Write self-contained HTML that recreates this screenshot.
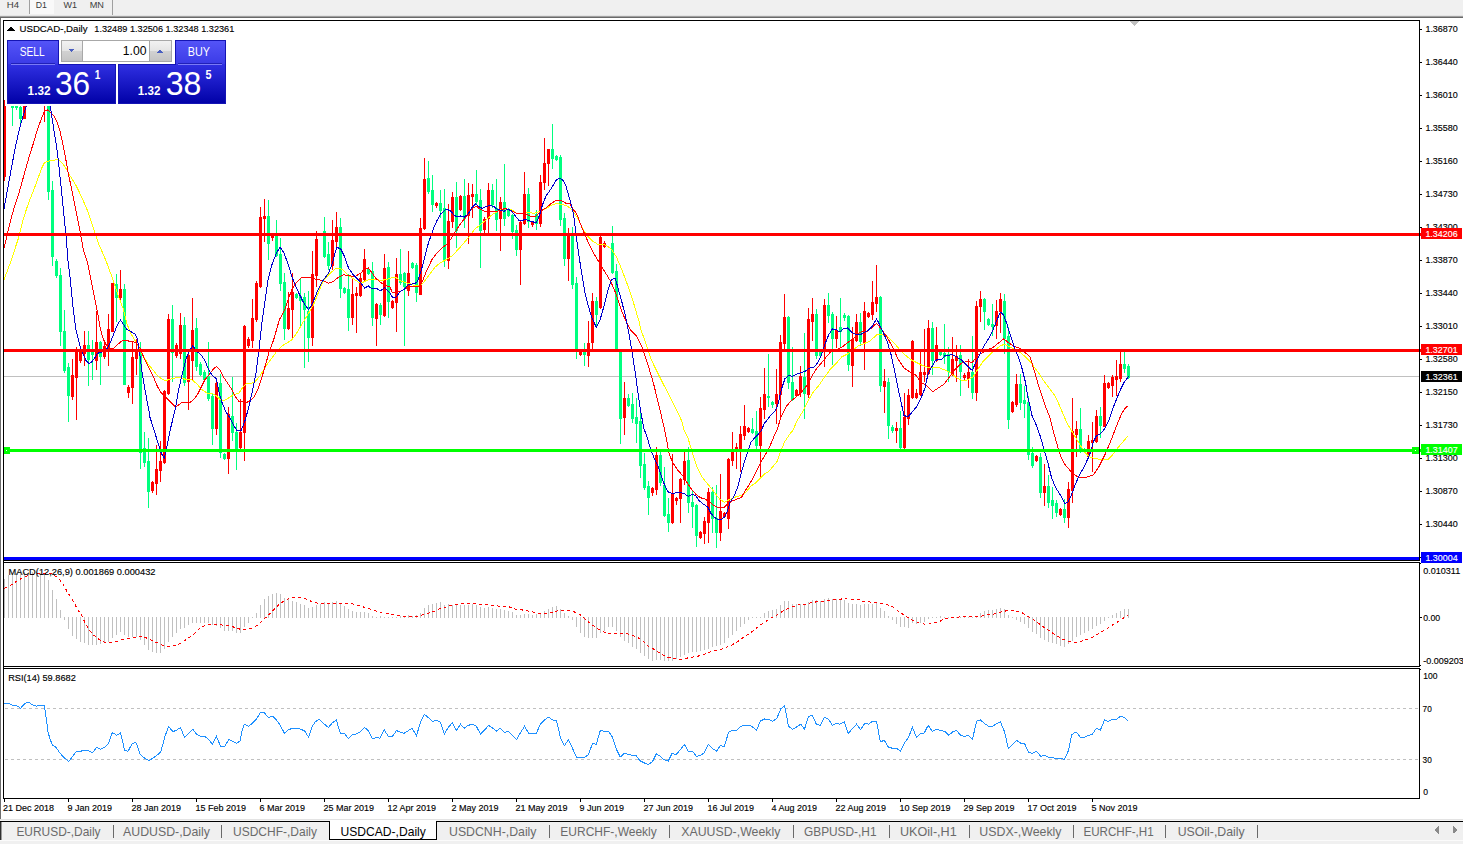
<!DOCTYPE html>
<html><head><meta charset="utf-8"><title>USDCAD-,Daily</title>
<style>
html,body{margin:0;padding:0;background:#fff;overflow:hidden}
svg{display:block;font-family:"Liberation Sans",sans-serif}
rect,polyline,line,polygon{shape-rendering:crispEdges}
text{white-space:pre}
</style></head><body>
<svg width="1463" height="844" viewBox="0 0 1463 844">
<rect x="0" y="0" width="1463" height="844" fill="#fff"/>
<rect x="0" y="0" width="1463" height="15" fill="#f0f0f0"/>
<rect x="0" y="15" width="1463" height="1" fill="#e4e4e4"/>
<rect x="0" y="16" width="1463" height="1" fill="#a0a0a0"/>
<rect x="0" y="17" width="1463" height="1" fill="#696969"/>
<rect x="30" y="0" width="24" height="14" fill="#f9f9f9"/>
<rect x="29" y="0" width="1" height="14" fill="#a0a0a0"/>
<rect x="112" y="0" width="1" height="15" fill="#a0a0a0"/>
<rect x="0" y="18" width="1" height="801" fill="#6d6d6d"/>
<rect x="0" y="819" width="1463" height="1" fill="#e3e3e3"/>
<rect x="0" y="820" width="1463" height="1" fill="#f4f4f4"/>
<rect x="0" y="821" width="1463" height="1" fill="#000"/>
<rect x="0" y="822" width="1463" height="22" fill="#f0f0f0"/>
<rect x="0" y="840" width="1463" height="1" fill="#fbfbfb"/>
<rect x="0" y="822" width="1" height="18" fill="#303030"/>
<rect x="1" y="822" width="1" height="18" fill="#9a9a9a"/>
<rect x="330" y="820" width="106" height="19" fill="#fff"/>
<rect x="329" y="821" width="1" height="19" fill="#000"/>
<rect x="436" y="821" width="1" height="19" fill="#000"/>
<rect x="329" y="839" width="108" height="1" fill="#000"/>
<clipPath id="cm"><rect x="4" y="21" width="1415" height="539"/></clipPath>
<rect x="4" y="376" width="1415" height="1" fill="#c0c0c0"/>
<g clip-path="url(#cm)">
<rect x="4" y="100" width="1" height="81" fill="#ff0000"/>
<rect x="3" y="100" width="3" height="77" fill="#ff0000"/>
<rect x="8" y="96" width="1" height="10" fill="#00ff7f"/>
<rect x="7" y="98" width="3" height="7" fill="#00ff7f"/>
<rect x="12" y="100" width="1" height="26" fill="#00ff7f"/>
<rect x="11" y="102" width="3" height="6" fill="#00ff7f"/>
<rect x="16" y="100" width="1" height="10" fill="#00ff7f"/>
<rect x="15" y="102" width="3" height="6" fill="#00ff7f"/>
<rect x="20" y="104" width="1" height="21" fill="#00ff7f"/>
<rect x="19" y="107" width="3" height="12" fill="#00ff7f"/>
<rect x="24" y="100" width="1" height="19" fill="#ff0000"/>
<rect x="23" y="102" width="3" height="17" fill="#ff0000"/>
<rect x="28" y="92" width="1" height="13" fill="#ff0000"/>
<rect x="27" y="95" width="3" height="9" fill="#ff0000"/>
<rect x="32" y="90" width="1" height="13" fill="#ff0000"/>
<rect x="31" y="92" width="3" height="9" fill="#ff0000"/>
<rect x="36" y="90" width="1" height="13" fill="#00ff7f"/>
<rect x="35" y="93" width="3" height="7" fill="#00ff7f"/>
<rect x="40" y="88" width="1" height="16" fill="#ff0000"/>
<rect x="39" y="92" width="3" height="9" fill="#ff0000"/>
<rect x="44" y="92" width="1" height="30" fill="#ff0000"/>
<rect x="43" y="96" width="3" height="9" fill="#ff0000"/>
<rect x="48" y="98" width="1" height="102" fill="#00ff7f"/>
<rect x="47" y="100" width="3" height="92" fill="#00ff7f"/>
<rect x="52" y="181" width="1" height="85" fill="#00ff7f"/>
<rect x="51" y="190" width="3" height="67" fill="#00ff7f"/>
<rect x="56" y="259" width="1" height="19" fill="#00ff7f"/>
<rect x="55" y="261" width="3" height="15" fill="#00ff7f"/>
<rect x="60" y="268" width="1" height="78" fill="#00ff7f"/>
<rect x="59" y="275" width="3" height="57" fill="#00ff7f"/>
<rect x="64" y="310" width="1" height="63" fill="#00ff7f"/>
<rect x="63" y="331" width="3" height="40" fill="#00ff7f"/>
<rect x="68" y="363" width="1" height="59" fill="#00ff7f"/>
<rect x="67" y="367" width="3" height="29" fill="#00ff7f"/>
<rect x="72" y="359" width="1" height="41" fill="#ff0000"/>
<rect x="71" y="375" width="3" height="22" fill="#ff0000"/>
<rect x="76" y="347" width="1" height="73" fill="#ff0000"/>
<rect x="75" y="350" width="3" height="28" fill="#ff0000"/>
<rect x="80" y="348" width="1" height="15" fill="#ff0000"/>
<rect x="79" y="352" width="3" height="9" fill="#ff0000"/>
<rect x="84" y="331" width="1" height="35" fill="#ff0000"/>
<rect x="83" y="345" width="3" height="9" fill="#ff0000"/>
<rect x="88" y="331" width="1" height="55" fill="#00ff7f"/>
<rect x="87" y="345" width="3" height="15" fill="#00ff7f"/>
<rect x="92" y="340" width="1" height="40" fill="#00ff7f"/>
<rect x="91" y="350" width="3" height="5" fill="#00ff7f"/>
<rect x="96" y="311" width="1" height="59" fill="#ff0000"/>
<rect x="95" y="342" width="3" height="19" fill="#ff0000"/>
<rect x="100" y="341" width="1" height="44" fill="#00ff7f"/>
<rect x="99" y="342" width="3" height="15" fill="#00ff7f"/>
<rect x="104" y="343" width="1" height="16" fill="#ff0000"/>
<rect x="103" y="346" width="3" height="11" fill="#ff0000"/>
<rect x="108" y="314" width="1" height="52" fill="#ff0000"/>
<rect x="107" y="329" width="3" height="21" fill="#ff0000"/>
<rect x="112" y="283" width="1" height="49" fill="#ff0000"/>
<rect x="111" y="283" width="3" height="49" fill="#ff0000"/>
<rect x="116" y="274" width="1" height="48" fill="#00ff7f"/>
<rect x="115" y="284" width="3" height="14" fill="#00ff7f"/>
<rect x="120" y="270" width="1" height="31" fill="#ff0000"/>
<rect x="119" y="289" width="3" height="9" fill="#ff0000"/>
<rect x="124" y="284" width="1" height="101" fill="#00ff7f"/>
<rect x="123" y="289" width="3" height="96" fill="#00ff7f"/>
<rect x="128" y="385" width="1" height="13" fill="#ff0000"/>
<rect x="127" y="387" width="3" height="6" fill="#ff0000"/>
<rect x="132" y="341" width="1" height="63" fill="#ff0000"/>
<rect x="131" y="357" width="3" height="31" fill="#ff0000"/>
<rect x="136" y="339" width="1" height="36" fill="#ff0000"/>
<rect x="135" y="352" width="3" height="7" fill="#ff0000"/>
<rect x="140" y="342" width="1" height="127" fill="#00ff7f"/>
<rect x="139" y="349" width="3" height="104" fill="#00ff7f"/>
<rect x="144" y="432" width="1" height="35" fill="#00ff7f"/>
<rect x="143" y="448" width="3" height="15" fill="#00ff7f"/>
<rect x="148" y="438" width="1" height="70" fill="#00ff7f"/>
<rect x="147" y="461" width="3" height="31" fill="#00ff7f"/>
<rect x="152" y="481" width="1" height="12" fill="#ff0000"/>
<rect x="151" y="482" width="3" height="9" fill="#ff0000"/>
<rect x="156" y="445" width="1" height="50" fill="#ff0000"/>
<rect x="155" y="469" width="3" height="15" fill="#ff0000"/>
<rect x="160" y="441" width="1" height="41" fill="#ff0000"/>
<rect x="159" y="461" width="3" height="10" fill="#ff0000"/>
<rect x="164" y="390" width="1" height="74" fill="#ff0000"/>
<rect x="163" y="391" width="3" height="72" fill="#ff0000"/>
<rect x="168" y="314" width="1" height="81" fill="#ff0000"/>
<rect x="167" y="319" width="3" height="75" fill="#ff0000"/>
<rect x="172" y="305" width="1" height="77" fill="#00ff7f"/>
<rect x="171" y="319" width="3" height="34" fill="#00ff7f"/>
<rect x="176" y="343" width="1" height="15" fill="#ff0000"/>
<rect x="175" y="345" width="3" height="11" fill="#ff0000"/>
<rect x="180" y="313" width="1" height="46" fill="#ff0000"/>
<rect x="179" y="325" width="3" height="29" fill="#ff0000"/>
<rect x="184" y="317" width="1" height="69" fill="#00ff7f"/>
<rect x="183" y="325" width="3" height="58" fill="#00ff7f"/>
<rect x="188" y="352" width="1" height="58" fill="#ff0000"/>
<rect x="187" y="355" width="3" height="27" fill="#ff0000"/>
<rect x="192" y="298" width="1" height="83" fill="#ff0000"/>
<rect x="191" y="330" width="3" height="31" fill="#ff0000"/>
<rect x="196" y="318" width="1" height="53" fill="#00ff7f"/>
<rect x="195" y="328" width="3" height="39" fill="#00ff7f"/>
<rect x="200" y="362" width="1" height="14" fill="#00ff7f"/>
<rect x="199" y="364" width="3" height="11" fill="#00ff7f"/>
<rect x="204" y="370" width="1" height="11" fill="#00ff7f"/>
<rect x="203" y="372" width="3" height="8" fill="#00ff7f"/>
<rect x="208" y="342" width="1" height="59" fill="#00ff7f"/>
<rect x="207" y="376" width="3" height="23" fill="#00ff7f"/>
<rect x="212" y="394" width="1" height="51" fill="#00ff7f"/>
<rect x="211" y="396" width="3" height="33" fill="#00ff7f"/>
<rect x="216" y="382" width="1" height="53" fill="#ff0000"/>
<rect x="215" y="383" width="3" height="46" fill="#ff0000"/>
<rect x="220" y="374" width="1" height="84" fill="#00ff7f"/>
<rect x="219" y="383" width="3" height="70" fill="#00ff7f"/>
<rect x="224" y="453" width="1" height="7" fill="#00ff7f"/>
<rect x="223" y="454" width="3" height="5" fill="#00ff7f"/>
<rect x="228" y="407" width="1" height="67" fill="#ff0000"/>
<rect x="227" y="414" width="3" height="45" fill="#ff0000"/>
<rect x="232" y="377" width="1" height="64" fill="#00ff7f"/>
<rect x="231" y="416" width="3" height="17" fill="#00ff7f"/>
<rect x="236" y="423" width="1" height="47" fill="#00ff7f"/>
<rect x="235" y="432" width="3" height="17" fill="#00ff7f"/>
<rect x="240" y="399" width="1" height="50" fill="#ff0000"/>
<rect x="239" y="432" width="3" height="16" fill="#ff0000"/>
<rect x="244" y="325" width="1" height="136" fill="#ff0000"/>
<rect x="243" y="326" width="3" height="107" fill="#ff0000"/>
<rect x="248" y="337" width="1" height="11" fill="#ff0000"/>
<rect x="247" y="339" width="3" height="7" fill="#ff0000"/>
<rect x="252" y="299" width="1" height="49" fill="#ff0000"/>
<rect x="251" y="318" width="3" height="23" fill="#ff0000"/>
<rect x="256" y="281" width="1" height="41" fill="#ff0000"/>
<rect x="255" y="283" width="3" height="37" fill="#ff0000"/>
<rect x="260" y="207" width="1" height="81" fill="#ff0000"/>
<rect x="259" y="217" width="3" height="70" fill="#ff0000"/>
<rect x="264" y="199" width="1" height="43" fill="#ff0000"/>
<rect x="263" y="216" width="3" height="3" fill="#ff0000"/>
<rect x="268" y="200" width="1" height="60" fill="#00ff7f"/>
<rect x="267" y="216" width="3" height="28" fill="#00ff7f"/>
<rect x="272" y="233" width="1" height="8" fill="#ff0000"/>
<rect x="271" y="235" width="3" height="3" fill="#ff0000"/>
<rect x="276" y="220" width="1" height="37" fill="#00ff7f"/>
<rect x="275" y="235" width="3" height="21" fill="#00ff7f"/>
<rect x="280" y="238" width="1" height="53" fill="#00ff7f"/>
<rect x="279" y="254" width="3" height="30" fill="#00ff7f"/>
<rect x="284" y="273" width="1" height="67" fill="#00ff7f"/>
<rect x="283" y="282" width="3" height="47" fill="#00ff7f"/>
<rect x="288" y="292" width="1" height="38" fill="#ff0000"/>
<rect x="287" y="308" width="3" height="21" fill="#ff0000"/>
<rect x="292" y="273" width="1" height="65" fill="#ff0000"/>
<rect x="291" y="292" width="3" height="18" fill="#ff0000"/>
<rect x="296" y="293" width="1" height="6" fill="#00ff7f"/>
<rect x="295" y="294" width="3" height="4" fill="#00ff7f"/>
<rect x="300" y="278" width="1" height="50" fill="#00ff7f"/>
<rect x="299" y="296" width="3" height="5" fill="#00ff7f"/>
<rect x="304" y="293" width="1" height="75" fill="#00ff7f"/>
<rect x="303" y="297" width="3" height="13" fill="#00ff7f"/>
<rect x="308" y="291" width="1" height="71" fill="#00ff7f"/>
<rect x="307" y="311" width="3" height="27" fill="#00ff7f"/>
<rect x="312" y="251" width="1" height="95" fill="#ff0000"/>
<rect x="311" y="274" width="3" height="64" fill="#ff0000"/>
<rect x="316" y="231" width="1" height="56" fill="#ff0000"/>
<rect x="315" y="239" width="3" height="37" fill="#ff0000"/>
<rect x="324" y="217" width="1" height="41" fill="#00ff7f"/>
<rect x="323" y="231" width="3" height="26" fill="#00ff7f"/>
<rect x="328" y="242" width="1" height="28" fill="#00ff7f"/>
<rect x="327" y="254" width="3" height="12" fill="#00ff7f"/>
<rect x="332" y="220" width="1" height="50" fill="#ff0000"/>
<rect x="331" y="240" width="3" height="26" fill="#ff0000"/>
<rect x="336" y="212" width="1" height="35" fill="#ff0000"/>
<rect x="335" y="227" width="3" height="15" fill="#ff0000"/>
<rect x="340" y="218" width="1" height="80" fill="#00ff7f"/>
<rect x="339" y="227" width="3" height="62" fill="#00ff7f"/>
<rect x="344" y="287" width="1" height="7" fill="#00ff7f"/>
<rect x="343" y="288" width="3" height="5" fill="#00ff7f"/>
<rect x="348" y="274" width="1" height="57" fill="#00ff7f"/>
<rect x="347" y="289" width="3" height="29" fill="#00ff7f"/>
<rect x="352" y="279" width="1" height="46" fill="#ff0000"/>
<rect x="351" y="294" width="3" height="24" fill="#ff0000"/>
<rect x="356" y="287" width="1" height="46" fill="#ff0000"/>
<rect x="355" y="293" width="3" height="3" fill="#ff0000"/>
<rect x="360" y="273" width="1" height="24" fill="#ff0000"/>
<rect x="359" y="278" width="3" height="18" fill="#ff0000"/>
<rect x="364" y="249" width="1" height="32" fill="#ff0000"/>
<rect x="363" y="259" width="3" height="21" fill="#ff0000"/>
<rect x="368" y="268" width="1" height="7" fill="#00ff7f"/>
<rect x="367" y="269" width="3" height="5" fill="#00ff7f"/>
<rect x="372" y="262" width="1" height="64" fill="#00ff7f"/>
<rect x="371" y="271" width="3" height="47" fill="#00ff7f"/>
<rect x="376" y="303" width="1" height="43" fill="#ff0000"/>
<rect x="375" y="304" width="3" height="15" fill="#ff0000"/>
<rect x="380" y="303" width="1" height="22" fill="#00ff7f"/>
<rect x="379" y="305" width="3" height="10" fill="#00ff7f"/>
<rect x="384" y="254" width="1" height="63" fill="#ff0000"/>
<rect x="383" y="268" width="3" height="48" fill="#ff0000"/>
<rect x="388" y="262" width="1" height="56" fill="#00ff7f"/>
<rect x="387" y="267" width="3" height="35" fill="#00ff7f"/>
<rect x="392" y="300" width="1" height="9" fill="#ff0000"/>
<rect x="391" y="301" width="3" height="7" fill="#ff0000"/>
<rect x="396" y="258" width="1" height="74" fill="#ff0000"/>
<rect x="395" y="274" width="3" height="29" fill="#ff0000"/>
<rect x="400" y="249" width="1" height="36" fill="#00ff7f"/>
<rect x="399" y="274" width="3" height="9" fill="#00ff7f"/>
<rect x="404" y="272" width="1" height="74" fill="#00ff7f"/>
<rect x="403" y="273" width="3" height="14" fill="#00ff7f"/>
<rect x="408" y="251" width="1" height="45" fill="#ff0000"/>
<rect x="407" y="273" width="3" height="18" fill="#ff0000"/>
<rect x="412" y="262" width="1" height="7" fill="#00ff7f"/>
<rect x="411" y="263" width="3" height="5" fill="#00ff7f"/>
<rect x="416" y="263" width="1" height="39" fill="#00ff7f"/>
<rect x="415" y="265" width="3" height="28" fill="#00ff7f"/>
<rect x="420" y="218" width="1" height="77" fill="#ff0000"/>
<rect x="419" y="228" width="3" height="67" fill="#ff0000"/>
<rect x="424" y="158" width="1" height="72" fill="#ff0000"/>
<rect x="423" y="179" width="3" height="50" fill="#ff0000"/>
<rect x="428" y="161" width="1" height="33" fill="#00ff7f"/>
<rect x="427" y="178" width="3" height="14" fill="#00ff7f"/>
<rect x="432" y="175" width="1" height="37" fill="#00ff7f"/>
<rect x="431" y="190" width="3" height="15" fill="#00ff7f"/>
<rect x="436" y="202" width="1" height="6" fill="#ff0000"/>
<rect x="435" y="203" width="3" height="3" fill="#ff0000"/>
<rect x="440" y="190" width="1" height="28" fill="#00ff7f"/>
<rect x="439" y="203" width="3" height="8" fill="#00ff7f"/>
<rect x="444" y="189" width="1" height="78" fill="#00ff7f"/>
<rect x="443" y="208" width="3" height="53" fill="#00ff7f"/>
<rect x="448" y="204" width="1" height="65" fill="#ff0000"/>
<rect x="447" y="221" width="3" height="40" fill="#ff0000"/>
<rect x="452" y="192" width="1" height="36" fill="#ff0000"/>
<rect x="451" y="197" width="3" height="25" fill="#ff0000"/>
<rect x="456" y="182" width="1" height="66" fill="#00ff7f"/>
<rect x="455" y="197" width="3" height="34" fill="#00ff7f"/>
<rect x="460" y="195" width="1" height="16" fill="#ff0000"/>
<rect x="459" y="196" width="3" height="14" fill="#ff0000"/>
<rect x="464" y="179" width="1" height="49" fill="#00ff7f"/>
<rect x="463" y="196" width="3" height="23" fill="#00ff7f"/>
<rect x="468" y="183" width="1" height="61" fill="#ff0000"/>
<rect x="467" y="195" width="3" height="21" fill="#ff0000"/>
<rect x="472" y="184" width="1" height="34" fill="#ff0000"/>
<rect x="471" y="194" width="3" height="3" fill="#ff0000"/>
<rect x="476" y="170" width="1" height="35" fill="#00ff7f"/>
<rect x="475" y="194" width="3" height="8" fill="#00ff7f"/>
<rect x="480" y="189" width="1" height="79" fill="#00ff7f"/>
<rect x="479" y="200" width="3" height="31" fill="#00ff7f"/>
<rect x="484" y="217" width="1" height="16" fill="#ff0000"/>
<rect x="483" y="219" width="3" height="11" fill="#ff0000"/>
<rect x="488" y="183" width="1" height="51" fill="#ff0000"/>
<rect x="487" y="190" width="3" height="29" fill="#ff0000"/>
<rect x="492" y="184" width="1" height="24" fill="#00ff7f"/>
<rect x="491" y="190" width="3" height="15" fill="#00ff7f"/>
<rect x="496" y="179" width="1" height="52" fill="#00ff7f"/>
<rect x="495" y="208" width="3" height="12" fill="#00ff7f"/>
<rect x="500" y="197" width="1" height="54" fill="#ff0000"/>
<rect x="499" y="202" width="3" height="17" fill="#ff0000"/>
<rect x="504" y="164" width="1" height="62" fill="#00ff7f"/>
<rect x="503" y="202" width="3" height="17" fill="#00ff7f"/>
<rect x="508" y="208" width="1" height="9" fill="#00ff7f"/>
<rect x="507" y="209" width="3" height="7" fill="#00ff7f"/>
<rect x="512" y="214" width="1" height="25" fill="#00ff7f"/>
<rect x="511" y="215" width="3" height="17" fill="#00ff7f"/>
<rect x="516" y="225" width="1" height="31" fill="#00ff7f"/>
<rect x="515" y="230" width="3" height="20" fill="#00ff7f"/>
<rect x="520" y="221" width="1" height="64" fill="#ff0000"/>
<rect x="519" y="222" width="3" height="28" fill="#ff0000"/>
<rect x="524" y="172" width="1" height="53" fill="#ff0000"/>
<rect x="523" y="194" width="3" height="30" fill="#ff0000"/>
<rect x="528" y="188" width="1" height="40" fill="#00ff7f"/>
<rect x="527" y="194" width="3" height="28" fill="#00ff7f"/>
<rect x="532" y="221" width="1" height="6" fill="#ff0000"/>
<rect x="531" y="222" width="3" height="3" fill="#ff0000"/>
<rect x="536" y="210" width="1" height="20" fill="#00ff7f"/>
<rect x="535" y="214" width="3" height="10" fill="#00ff7f"/>
<rect x="540" y="175" width="1" height="52" fill="#ff0000"/>
<rect x="539" y="182" width="3" height="42" fill="#ff0000"/>
<rect x="544" y="138" width="1" height="52" fill="#ff0000"/>
<rect x="543" y="163" width="3" height="20" fill="#ff0000"/>
<rect x="548" y="149" width="1" height="37" fill="#ff0000"/>
<rect x="547" y="149" width="3" height="15" fill="#ff0000"/>
<rect x="552" y="124" width="1" height="45" fill="#00ff7f"/>
<rect x="551" y="149" width="3" height="10" fill="#00ff7f"/>
<rect x="556" y="155" width="1" height="6" fill="#00ff7f"/>
<rect x="555" y="156" width="3" height="4" fill="#00ff7f"/>
<rect x="560" y="155" width="1" height="71" fill="#00ff7f"/>
<rect x="559" y="157" width="3" height="63" fill="#00ff7f"/>
<rect x="564" y="213" width="1" height="53" fill="#00ff7f"/>
<rect x="563" y="218" width="3" height="41" fill="#00ff7f"/>
<rect x="568" y="228" width="1" height="53" fill="#ff0000"/>
<rect x="567" y="235" width="3" height="24" fill="#ff0000"/>
<rect x="572" y="227" width="1" height="62" fill="#00ff7f"/>
<rect x="571" y="235" width="3" height="50" fill="#00ff7f"/>
<rect x="576" y="277" width="1" height="82" fill="#00ff7f"/>
<rect x="575" y="283" width="3" height="69" fill="#00ff7f"/>
<rect x="580" y="351" width="1" height="5" fill="#ff0000"/>
<rect x="579" y="352" width="3" height="3" fill="#ff0000"/>
<rect x="584" y="343" width="1" height="23" fill="#00ff7f"/>
<rect x="583" y="350" width="3" height="5" fill="#00ff7f"/>
<rect x="588" y="321" width="1" height="46" fill="#ff0000"/>
<rect x="587" y="343" width="3" height="13" fill="#ff0000"/>
<rect x="592" y="293" width="1" height="58" fill="#ff0000"/>
<rect x="591" y="301" width="3" height="42" fill="#ff0000"/>
<rect x="596" y="297" width="1" height="30" fill="#00ff7f"/>
<rect x="595" y="301" width="3" height="14" fill="#00ff7f"/>
<rect x="600" y="236" width="1" height="73" fill="#ff0000"/>
<rect x="599" y="237" width="3" height="71" fill="#ff0000"/>
<rect x="604" y="241" width="1" height="7" fill="#ff0000"/>
<rect x="603" y="243" width="3" height="4" fill="#ff0000"/>
<rect x="612" y="226" width="1" height="48" fill="#00ff7f"/>
<rect x="611" y="243" width="3" height="30" fill="#00ff7f"/>
<rect x="616" y="264" width="1" height="88" fill="#00ff7f"/>
<rect x="615" y="271" width="3" height="80" fill="#00ff7f"/>
<rect x="620" y="350" width="1" height="94" fill="#00ff7f"/>
<rect x="619" y="352" width="3" height="67" fill="#00ff7f"/>
<rect x="624" y="382" width="1" height="53" fill="#ff0000"/>
<rect x="623" y="398" width="3" height="20" fill="#ff0000"/>
<rect x="628" y="394" width="1" height="13" fill="#00ff7f"/>
<rect x="627" y="398" width="3" height="8" fill="#00ff7f"/>
<rect x="632" y="393" width="1" height="30" fill="#00ff7f"/>
<rect x="631" y="404" width="3" height="15" fill="#00ff7f"/>
<rect x="636" y="398" width="1" height="45" fill="#00ff7f"/>
<rect x="635" y="417" width="3" height="7" fill="#00ff7f"/>
<rect x="640" y="413" width="1" height="65" fill="#00ff7f"/>
<rect x="639" y="421" width="3" height="45" fill="#00ff7f"/>
<rect x="644" y="453" width="1" height="37" fill="#00ff7f"/>
<rect x="643" y="464" width="3" height="24" fill="#00ff7f"/>
<rect x="648" y="481" width="1" height="34" fill="#00ff7f"/>
<rect x="647" y="486" width="3" height="12" fill="#00ff7f"/>
<rect x="652" y="487" width="1" height="9" fill="#ff0000"/>
<rect x="651" y="488" width="3" height="5" fill="#ff0000"/>
<rect x="656" y="447" width="1" height="48" fill="#ff0000"/>
<rect x="655" y="455" width="3" height="35" fill="#ff0000"/>
<rect x="660" y="452" width="1" height="34" fill="#00ff7f"/>
<rect x="659" y="455" width="3" height="28" fill="#00ff7f"/>
<rect x="664" y="467" width="1" height="50" fill="#00ff7f"/>
<rect x="663" y="485" width="3" height="31" fill="#00ff7f"/>
<rect x="668" y="498" width="1" height="34" fill="#00ff7f"/>
<rect x="667" y="514" width="3" height="9" fill="#00ff7f"/>
<rect x="672" y="454" width="1" height="70" fill="#ff0000"/>
<rect x="671" y="494" width="3" height="29" fill="#ff0000"/>
<rect x="676" y="497" width="1" height="8" fill="#ff0000"/>
<rect x="675" y="498" width="3" height="3" fill="#ff0000"/>
<rect x="680" y="478" width="1" height="45" fill="#ff0000"/>
<rect x="679" y="479" width="3" height="20" fill="#ff0000"/>
<rect x="684" y="451" width="1" height="34" fill="#ff0000"/>
<rect x="683" y="461" width="3" height="19" fill="#ff0000"/>
<rect x="688" y="447" width="1" height="66" fill="#00ff7f"/>
<rect x="687" y="460" width="3" height="43" fill="#00ff7f"/>
<rect x="692" y="490" width="1" height="38" fill="#00ff7f"/>
<rect x="691" y="502" width="3" height="5" fill="#00ff7f"/>
<rect x="696" y="504" width="1" height="43" fill="#00ff7f"/>
<rect x="695" y="505" width="3" height="31" fill="#00ff7f"/>
<rect x="700" y="531" width="1" height="8" fill="#ff0000"/>
<rect x="699" y="532" width="3" height="6" fill="#ff0000"/>
<rect x="704" y="517" width="1" height="27" fill="#ff0000"/>
<rect x="703" y="521" width="3" height="13" fill="#ff0000"/>
<rect x="708" y="488" width="1" height="55" fill="#ff0000"/>
<rect x="707" y="492" width="3" height="31" fill="#ff0000"/>
<rect x="712" y="487" width="1" height="46" fill="#00ff7f"/>
<rect x="711" y="492" width="3" height="27" fill="#00ff7f"/>
<rect x="716" y="485" width="1" height="63" fill="#00ff7f"/>
<rect x="715" y="518" width="3" height="15" fill="#00ff7f"/>
<rect x="720" y="474" width="1" height="67" fill="#ff0000"/>
<rect x="719" y="511" width="3" height="22" fill="#ff0000"/>
<rect x="724" y="512" width="1" height="6" fill="#ff0000"/>
<rect x="723" y="513" width="3" height="4" fill="#ff0000"/>
<rect x="728" y="458" width="1" height="71" fill="#ff0000"/>
<rect x="727" y="459" width="3" height="60" fill="#ff0000"/>
<rect x="732" y="432" width="1" height="34" fill="#ff0000"/>
<rect x="731" y="452" width="3" height="9" fill="#ff0000"/>
<rect x="736" y="443" width="1" height="26" fill="#ff0000"/>
<rect x="735" y="447" width="3" height="3" fill="#ff0000"/>
<rect x="740" y="426" width="1" height="46" fill="#ff0000"/>
<rect x="739" y="434" width="3" height="16" fill="#ff0000"/>
<rect x="744" y="405" width="1" height="35" fill="#ff0000"/>
<rect x="743" y="426" width="3" height="10" fill="#ff0000"/>
<rect x="748" y="427" width="1" height="6" fill="#ff0000"/>
<rect x="747" y="428" width="3" height="4" fill="#ff0000"/>
<rect x="752" y="418" width="1" height="16" fill="#00ff7f"/>
<rect x="751" y="429" width="3" height="4" fill="#00ff7f"/>
<rect x="756" y="411" width="1" height="39" fill="#00ff7f"/>
<rect x="755" y="431" width="3" height="15" fill="#00ff7f"/>
<rect x="760" y="397" width="1" height="82" fill="#ff0000"/>
<rect x="759" y="408" width="3" height="38" fill="#ff0000"/>
<rect x="764" y="368" width="1" height="51" fill="#ff0000"/>
<rect x="763" y="394" width="3" height="16" fill="#ff0000"/>
<rect x="768" y="354" width="1" height="53" fill="#00ff7f"/>
<rect x="767" y="396" width="3" height="2" fill="#00ff7f"/>
<rect x="772" y="401" width="1" height="7" fill="#00ff7f"/>
<rect x="771" y="402" width="3" height="3" fill="#00ff7f"/>
<rect x="776" y="369" width="1" height="55" fill="#ff0000"/>
<rect x="775" y="394" width="3" height="10" fill="#ff0000"/>
<rect x="780" y="335" width="1" height="82" fill="#ff0000"/>
<rect x="779" y="342" width="3" height="53" fill="#ff0000"/>
<rect x="784" y="294" width="1" height="56" fill="#ff0000"/>
<rect x="783" y="317" width="3" height="27" fill="#ff0000"/>
<rect x="788" y="316" width="1" height="73" fill="#00ff7f"/>
<rect x="787" y="317" width="3" height="66" fill="#00ff7f"/>
<rect x="792" y="347" width="1" height="54" fill="#00ff7f"/>
<rect x="791" y="382" width="3" height="18" fill="#00ff7f"/>
<rect x="796" y="389" width="1" height="8" fill="#ff0000"/>
<rect x="795" y="390" width="3" height="6" fill="#ff0000"/>
<rect x="800" y="366" width="1" height="31" fill="#ff0000"/>
<rect x="799" y="376" width="3" height="17" fill="#ff0000"/>
<rect x="804" y="333" width="1" height="86" fill="#00ff7f"/>
<rect x="803" y="377" width="3" height="17" fill="#00ff7f"/>
<rect x="808" y="308" width="1" height="90" fill="#ff0000"/>
<rect x="807" y="319" width="3" height="76" fill="#ff0000"/>
<rect x="812" y="298" width="1" height="43" fill="#ff0000"/>
<rect x="811" y="314" width="3" height="8" fill="#ff0000"/>
<rect x="816" y="309" width="1" height="50" fill="#00ff7f"/>
<rect x="815" y="314" width="3" height="42" fill="#00ff7f"/>
<rect x="820" y="350" width="1" height="8" fill="#00ff7f"/>
<rect x="819" y="352" width="3" height="4" fill="#00ff7f"/>
<rect x="824" y="299" width="1" height="68" fill="#ff0000"/>
<rect x="823" y="305" width="3" height="47" fill="#ff0000"/>
<rect x="828" y="293" width="1" height="30" fill="#00ff7f"/>
<rect x="827" y="305" width="3" height="11" fill="#00ff7f"/>
<rect x="832" y="312" width="1" height="53" fill="#00ff7f"/>
<rect x="831" y="314" width="3" height="25" fill="#00ff7f"/>
<rect x="836" y="316" width="1" height="32" fill="#ff0000"/>
<rect x="835" y="330" width="3" height="9" fill="#ff0000"/>
<rect x="840" y="298" width="1" height="49" fill="#00ff7f"/>
<rect x="839" y="327" width="3" height="5" fill="#00ff7f"/>
<rect x="844" y="313" width="1" height="8" fill="#00ff7f"/>
<rect x="843" y="315" width="3" height="3" fill="#00ff7f"/>
<rect x="848" y="315" width="1" height="56" fill="#00ff7f"/>
<rect x="847" y="316" width="3" height="49" fill="#00ff7f"/>
<rect x="852" y="327" width="1" height="60" fill="#ff0000"/>
<rect x="851" y="339" width="3" height="27" fill="#ff0000"/>
<rect x="856" y="314" width="1" height="28" fill="#ff0000"/>
<rect x="855" y="322" width="3" height="19" fill="#ff0000"/>
<rect x="860" y="313" width="1" height="33" fill="#00ff7f"/>
<rect x="859" y="322" width="3" height="20" fill="#00ff7f"/>
<rect x="864" y="302" width="1" height="68" fill="#ff0000"/>
<rect x="863" y="311" width="3" height="32" fill="#ff0000"/>
<rect x="868" y="312" width="1" height="6" fill="#ff0000"/>
<rect x="867" y="313" width="3" height="4" fill="#ff0000"/>
<rect x="872" y="281" width="1" height="39" fill="#ff0000"/>
<rect x="871" y="302" width="3" height="13" fill="#ff0000"/>
<rect x="876" y="265" width="1" height="47" fill="#ff0000"/>
<rect x="875" y="297" width="3" height="7" fill="#ff0000"/>
<rect x="880" y="296" width="1" height="96" fill="#00ff7f"/>
<rect x="879" y="297" width="3" height="89" fill="#00ff7f"/>
<rect x="884" y="369" width="1" height="44" fill="#ff0000"/>
<rect x="883" y="381" width="3" height="6" fill="#ff0000"/>
<rect x="888" y="378" width="1" height="61" fill="#00ff7f"/>
<rect x="887" y="382" width="3" height="44" fill="#00ff7f"/>
<rect x="892" y="425" width="1" height="8" fill="#00ff7f"/>
<rect x="891" y="427" width="3" height="4" fill="#00ff7f"/>
<rect x="896" y="422" width="1" height="21" fill="#ff0000"/>
<rect x="895" y="428" width="3" height="3" fill="#ff0000"/>
<rect x="900" y="411" width="1" height="40" fill="#00ff7f"/>
<rect x="899" y="428" width="3" height="20" fill="#00ff7f"/>
<rect x="904" y="393" width="1" height="56" fill="#ff0000"/>
<rect x="903" y="417" width="3" height="31" fill="#ff0000"/>
<rect x="908" y="389" width="1" height="36" fill="#ff0000"/>
<rect x="907" y="395" width="3" height="24" fill="#ff0000"/>
<rect x="912" y="340" width="1" height="59" fill="#ff0000"/>
<rect x="911" y="341" width="3" height="57" fill="#ff0000"/>
<rect x="916" y="389" width="1" height="10" fill="#ff0000"/>
<rect x="915" y="393" width="3" height="5" fill="#ff0000"/>
<rect x="920" y="351" width="1" height="45" fill="#ff0000"/>
<rect x="919" y="372" width="3" height="23" fill="#ff0000"/>
<rect x="924" y="329" width="1" height="53" fill="#ff0000"/>
<rect x="923" y="372" width="3" height="3" fill="#ff0000"/>
<rect x="928" y="320" width="1" height="55" fill="#ff0000"/>
<rect x="927" y="328" width="3" height="46" fill="#ff0000"/>
<rect x="932" y="322" width="1" height="53" fill="#00ff7f"/>
<rect x="931" y="328" width="3" height="33" fill="#00ff7f"/>
<rect x="936" y="327" width="1" height="35" fill="#ff0000"/>
<rect x="935" y="345" width="3" height="16" fill="#ff0000"/>
<rect x="940" y="351" width="1" height="5" fill="#00ff7f"/>
<rect x="939" y="352" width="3" height="3" fill="#00ff7f"/>
<rect x="944" y="324" width="1" height="40" fill="#00ff7f"/>
<rect x="943" y="353" width="3" height="4" fill="#00ff7f"/>
<rect x="948" y="347" width="1" height="35" fill="#00ff7f"/>
<rect x="947" y="354" width="3" height="18" fill="#00ff7f"/>
<rect x="952" y="337" width="1" height="39" fill="#ff0000"/>
<rect x="951" y="359" width="3" height="16" fill="#ff0000"/>
<rect x="956" y="345" width="1" height="37" fill="#ff0000"/>
<rect x="955" y="356" width="3" height="5" fill="#ff0000"/>
<rect x="960" y="345" width="1" height="51" fill="#00ff7f"/>
<rect x="959" y="355" width="3" height="17" fill="#00ff7f"/>
<rect x="964" y="373" width="1" height="8" fill="#ff0000"/>
<rect x="963" y="375" width="3" height="3" fill="#ff0000"/>
<rect x="968" y="359" width="1" height="29" fill="#ff0000"/>
<rect x="967" y="372" width="3" height="7" fill="#ff0000"/>
<rect x="972" y="336" width="1" height="63" fill="#00ff7f"/>
<rect x="971" y="372" width="3" height="21" fill="#00ff7f"/>
<rect x="976" y="301" width="1" height="100" fill="#ff0000"/>
<rect x="975" y="306" width="3" height="87" fill="#ff0000"/>
<rect x="980" y="291" width="1" height="31" fill="#ff0000"/>
<rect x="979" y="299" width="3" height="8" fill="#ff0000"/>
<rect x="984" y="298" width="1" height="32" fill="#00ff7f"/>
<rect x="983" y="299" width="3" height="13" fill="#00ff7f"/>
<rect x="988" y="318" width="1" height="8" fill="#00ff7f"/>
<rect x="987" y="319" width="3" height="6" fill="#00ff7f"/>
<rect x="992" y="304" width="1" height="32" fill="#00ff7f"/>
<rect x="991" y="324" width="3" height="3" fill="#00ff7f"/>
<rect x="996" y="300" width="1" height="39" fill="#ff0000"/>
<rect x="995" y="311" width="3" height="15" fill="#ff0000"/>
<rect x="1000" y="293" width="1" height="40" fill="#ff0000"/>
<rect x="999" y="299" width="3" height="13" fill="#ff0000"/>
<rect x="1004" y="294" width="1" height="60" fill="#00ff7f"/>
<rect x="1003" y="301" width="3" height="38" fill="#00ff7f"/>
<rect x="1008" y="327" width="1" height="102" fill="#00ff7f"/>
<rect x="1007" y="336" width="3" height="84" fill="#00ff7f"/>
<rect x="1012" y="401" width="1" height="12" fill="#ff0000"/>
<rect x="1011" y="402" width="3" height="10" fill="#ff0000"/>
<rect x="1016" y="374" width="1" height="33" fill="#ff0000"/>
<rect x="1015" y="384" width="3" height="21" fill="#ff0000"/>
<rect x="1020" y="374" width="1" height="36" fill="#00ff7f"/>
<rect x="1019" y="384" width="3" height="19" fill="#00ff7f"/>
<rect x="1024" y="386" width="1" height="32" fill="#00ff7f"/>
<rect x="1023" y="400" width="3" height="4" fill="#00ff7f"/>
<rect x="1028" y="396" width="1" height="64" fill="#00ff7f"/>
<rect x="1027" y="402" width="3" height="53" fill="#00ff7f"/>
<rect x="1032" y="447" width="1" height="21" fill="#00ff7f"/>
<rect x="1031" y="453" width="3" height="13" fill="#00ff7f"/>
<rect x="1036" y="455" width="1" height="7" fill="#ff0000"/>
<rect x="1035" y="456" width="3" height="5" fill="#ff0000"/>
<rect x="1040" y="453" width="1" height="45" fill="#00ff7f"/>
<rect x="1039" y="457" width="3" height="36" fill="#00ff7f"/>
<rect x="1044" y="464" width="1" height="42" fill="#ff0000"/>
<rect x="1043" y="486" width="3" height="7" fill="#ff0000"/>
<rect x="1048" y="475" width="1" height="33" fill="#00ff7f"/>
<rect x="1047" y="486" width="3" height="17" fill="#00ff7f"/>
<rect x="1052" y="487" width="1" height="32" fill="#00ff7f"/>
<rect x="1051" y="500" width="3" height="6" fill="#00ff7f"/>
<rect x="1056" y="500" width="1" height="17" fill="#00ff7f"/>
<rect x="1055" y="503" width="3" height="10" fill="#00ff7f"/>
<rect x="1060" y="508" width="1" height="8" fill="#ff0000"/>
<rect x="1059" y="509" width="3" height="6" fill="#ff0000"/>
<rect x="1064" y="499" width="1" height="24" fill="#00ff7f"/>
<rect x="1063" y="509" width="3" height="9" fill="#00ff7f"/>
<rect x="1068" y="482" width="1" height="46" fill="#ff0000"/>
<rect x="1067" y="489" width="3" height="29" fill="#ff0000"/>
<rect x="1072" y="398" width="1" height="105" fill="#ff0000"/>
<rect x="1071" y="431" width="3" height="60" fill="#ff0000"/>
<rect x="1076" y="421" width="1" height="36" fill="#ff0000"/>
<rect x="1075" y="429" width="3" height="6" fill="#ff0000"/>
<rect x="1080" y="408" width="1" height="45" fill="#00ff7f"/>
<rect x="1079" y="429" width="3" height="21" fill="#00ff7f"/>
<rect x="1084" y="448" width="1" height="5" fill="#00ff7f"/>
<rect x="1083" y="449" width="3" height="3" fill="#00ff7f"/>
<rect x="1088" y="435" width="1" height="23" fill="#ff0000"/>
<rect x="1087" y="441" width="3" height="16" fill="#ff0000"/>
<rect x="1092" y="422" width="1" height="50" fill="#ff0000"/>
<rect x="1091" y="440" width="3" height="3" fill="#ff0000"/>
<rect x="1096" y="410" width="1" height="33" fill="#ff0000"/>
<rect x="1095" y="416" width="3" height="26" fill="#ff0000"/>
<rect x="1100" y="407" width="1" height="31" fill="#00ff7f"/>
<rect x="1099" y="416" width="3" height="10" fill="#00ff7f"/>
<rect x="1104" y="375" width="1" height="52" fill="#ff0000"/>
<rect x="1103" y="383" width="3" height="44" fill="#ff0000"/>
<rect x="1108" y="382" width="1" height="7" fill="#ff0000"/>
<rect x="1107" y="383" width="3" height="5" fill="#ff0000"/>
<rect x="1112" y="375" width="1" height="22" fill="#ff0000"/>
<rect x="1111" y="377" width="3" height="9" fill="#ff0000"/>
<rect x="1116" y="360" width="1" height="36" fill="#ff0000"/>
<rect x="1115" y="376" width="3" height="4" fill="#ff0000"/>
<rect x="1120" y="351" width="1" height="31" fill="#ff0000"/>
<rect x="1119" y="364" width="3" height="15" fill="#ff0000"/>
<rect x="1124" y="351" width="1" height="22" fill="#00ff7f"/>
<rect x="1123" y="364" width="3" height="5" fill="#00ff7f"/>
<rect x="1128" y="364" width="1" height="15" fill="#00ff7f"/>
<rect x="1127" y="366" width="3" height="12" fill="#00ff7f"/>
<polyline points="3.8,280.3 11.4,260.0 15.2,248.0 19.0,236.5 22.7,221.0 26.5,209.0 30.3,198.6 34.1,189.0 37.9,178.7 41.7,168.0 44.5,162.6 49.3,161.0 53.1,160.3 56.9,159.7 59.7,160.7 62.6,163.5 66.4,169.0 70.1,175.8 75.8,185.0 81.5,196.7 87.2,210.0 91.0,221.0 94.8,232.7 98.6,244.0 101.4,250.0 106.2,261.4 111.8,276.5 117.5,293.6 123.2,308.8 127.0,324.0 130.8,333.4 136.5,343.0 142.2,354.3 147.9,363.7 150.0,366.4 153.8,371.0 157.6,375.8 161.4,378.7 165.2,380.6 169.0,379.6 174.6,378.0 180.3,377.3 186.0,379.6 191.7,379.6 196.4,383.4 201.2,389.0 206.9,393.0 212.6,393.8 216.4,395.7 220.0,399.5 224.0,400.5 227.7,398.6 233.4,394.8 239.0,393.0 242.9,387.0 246.7,383.4 252.4,383.0 256.2,380.6 260.0,375.8 265.6,366.4 271.3,358.8 277.0,351.0 282.7,345.5 288.4,342.0 291.6,340.0 296.4,333.6 302.0,324.0 307.7,314.6 313.4,305.0 317.2,295.6 321.0,286.0 324.8,278.6 330.5,273.0 335.2,269.0 339.0,268.0 342.8,270.0 347.5,274.8 353.2,278.6 358.9,282.4 362.7,282.4 366.5,280.5 370.3,279.0 376.0,279.5 381.7,280.5 385.5,279.5 390.0,278.6 392.3,277.0 396.0,277.6 400.0,280.5 404.6,282.4 410.3,283.9 416.0,286.0 419.8,285.8 423.6,282.4 429.3,274.8 435.0,267.2 440.7,262.5 446.4,259.6 452.0,255.8 457.7,250.0 463.4,243.5 469.0,236.9 474.8,229.3 480.5,224.5 486.2,219.8 491.8,215.0 497.5,211.3 503.2,208.8 509.0,209.4 512.7,210.3 516.5,213.7 522.2,214.0 527.9,212.6 533.6,213.2 536.0,212.8 541.0,211.0 546.0,208.7 551.0,205.4 555.9,203.7 560.9,204.2 565.8,205.4 570.0,207.8 574.0,212.8 577.4,217.8 580.8,224.4 584.0,231.0 587.4,236.0 592.4,241.0 597.3,244.0 600.0,244.7 605.0,245.0 610.7,248.3 616.4,256.9 622.0,270.0 627.7,285.3 633.4,302.4 639.0,321.3 641.0,330.0 645.8,343.3 651.5,360.3 659.0,375.5 666.7,390.7 674.3,405.8 681.8,421.0 683.9,430.0 687.8,437.7 690.8,447.0 693.9,457.7 697.0,467.0 701.6,476.2 706.2,482.4 710.9,487.7 715.5,493.9 720.0,499.3 724.7,502.4 728.6,500.0 733.2,497.8 737.8,496.2 741.7,495.4 746.3,491.6 750.9,486.2 755.5,483.0 760.0,478.5 764.7,473.9 768.6,471.6 773.2,466.2 777.0,461.6 780.0,453.0 784.8,441.5 789.4,434.6 793.2,430.0 796.4,422.0 802.0,412.7 807.7,401.3 813.4,391.8 819.0,385.2 824.8,376.7 830.5,369.0 836.2,363.4 841.8,356.8 847.5,354.0 853.2,350.0 858.9,345.4 864.6,343.5 870.3,340.7 876.6,335.0 882.3,334.6 888.0,336.9 893.7,342.6 899.4,349.2 905.0,354.9 910.8,359.6 916.4,362.5 922.0,365.3 927.8,367.2 933.5,367.6 939.2,367.8 944.9,370.0 950.6,372.9 956.3,377.6 961.9,380.5 967.6,379.9 973.3,376.7 978.0,369.0 983.7,360.6 989.4,354.9 995.0,350.0 1000.8,345.4 1004.6,344.5 1009.3,346.4 1015.0,350.0 1020.7,353.0 1025.5,356.8 1030.0,361.5 1032.7,365.0 1038.4,372.7 1044.0,381.2 1049.8,388.8 1055.5,396.4 1061.2,409.6 1066.9,422.9 1072.6,432.4 1078.2,441.8 1084.0,451.3 1089.6,457.0 1095.3,458.5 1102.0,459.9 1107.6,459.9 1112.4,455.0 1118.0,447.5 1123.7,440.9 1128.0,435.8" fill="none" stroke="#ffff00" stroke-width="1"/>
<polyline points="4.2,248.0 7.6,233.0 11.4,217.5 15.2,204.0 19.0,193.0 22.7,179.6 26.5,166.0 30.3,153.0 34.1,141.0 37.9,128.0 41.7,118.0 44.5,111.0 47.4,110.0 50.2,112.0 54.0,116.0 56.9,122.0 59.7,130.0 62.6,143.0 65.4,157.0 68.2,173.0 72.0,191.0 75.8,210.0 79.6,229.0 83.4,250.0 87.2,261.4 91.0,280.0 94.8,299.0 97.6,312.6 100.5,329.6 103.3,339.0 106.2,344.8 109.0,348.6 111.8,349.0 114.7,347.6 117.5,344.8 120.4,342.0 123.2,340.4 127.0,340.6 130.8,341.6 133.6,342.0 136.5,343.0 140.3,348.6 144.0,358.0 149.8,369.4 153.8,377.7 157.6,387.0 161.4,393.0 165.2,396.7 169.0,400.5 172.7,404.3 175.6,407.0 178.4,405.0 182.2,402.4 186.0,402.4 188.9,403.3 192.7,400.5 197.4,394.8 201.2,387.0 205.0,379.6 208.8,375.0 212.6,370.0 216.4,366.4 220.0,370.0 224.0,377.7 227.7,383.4 231.5,389.0 235.3,396.7 239.0,401.4 242.9,401.4 246.7,402.4 250.5,400.5 254.3,396.7 258.0,389.0 261.8,377.7 265.6,364.5 269.4,351.0 273.6,340.0 279.3,320.0 285.0,309.0 288.8,297.5 292.6,288.0 296.4,282.4 301.0,278.0 305.8,277.0 311.5,278.0 317.2,279.5 322.9,280.5 328.6,283.3 333.3,281.4 338.0,277.6 343.7,274.8 349.4,275.7 355.0,276.7 360.8,273.0 364.6,269.0 368.4,268.0 372.2,273.0 376.0,278.6 381.7,283.3 387.3,286.0 390.0,287.0 392.3,292.8 396.0,292.8 400.9,290.9 404.6,289.0 408.4,287.0 412.2,286.0 416.0,287.0 419.8,286.0 422.7,280.5 427.4,269.0 432.0,259.6 436.9,253.0 441.6,248.2 446.4,244.5 451.0,238.8 455.8,231.0 460.6,223.6 465.3,217.9 469.0,212.2 472.9,207.5 476.7,206.5 480.5,209.4 484.3,211.3 488.0,210.9 491.8,211.3 497.5,211.3 501.3,210.0 505.0,208.4 509.0,209.4 512.7,211.3 516.5,213.2 522.2,213.2 526.0,214.0 529.8,216.0 533.6,217.0 536.0,216.0 541.0,211.0 546.0,207.8 551.0,203.7 555.9,200.4 559.2,200.0 562.5,201.2 565.8,203.2 570.0,203.7 573.3,209.5 576.5,213.3 582.2,228.4 588.0,241.7 593.6,253.0 599.3,262.6 605.0,272.0 610.7,281.5 616.4,294.8 622.0,311.8 627.7,325.0 630.7,330.0 636.4,335.7 642.0,347.0 647.7,364.0 653.4,383.0 659.0,405.8 664.8,430.5 667.0,442.3 669.3,454.6 673.1,463.0 677.7,470.0 682.4,475.4 687.0,482.4 691.6,489.3 696.2,494.7 700.8,497.8 705.5,499.3 710.0,502.4 713.9,505.5 717.0,507.0 720.9,507.3 724.7,507.0 727.8,503.9 730.9,501.6 734.7,500.0 738.6,498.5 741.7,497.0 744.7,491.6 747.8,487.0 752.4,479.3 757.0,470.0 761.7,460.8 766.3,453.0 770.9,443.9 774.0,436.2 777.0,430.0 781.2,416.5 785.9,407.0 790.7,401.3 795.4,397.5 800.0,393.7 804.9,388.0 808.7,382.4 811.5,376.7 816.3,369.0 821.0,363.4 825.7,357.7 830.5,352.0 836.2,350.0 841.8,347.3 847.5,342.6 853.2,338.8 858.9,333.0 862.7,331.0 867.4,331.0 872.2,327.4 876.6,323.2 881.4,329.3 887.0,336.9 892.7,347.3 898.4,359.6 904.0,368.0 909.8,372.0 915.5,374.8 921.2,382.4 926.9,386.0 932.6,391.8 938.2,388.0 944.0,384.3 949.6,376.7 955.3,369.0 961.0,363.4 966.7,361.5 972.4,362.5 977.0,355.8 981.8,353.0 987.5,350.0 993.2,347.3 999.0,342.6 1003.6,338.8 1008.4,342.6 1014.0,346.4 1019.8,348.2 1024.5,352.0 1030.0,356.8 1034.6,371.7 1038.4,385.0 1042.2,396.4 1046.0,407.7 1049.8,417.2 1053.6,432.4 1057.4,445.6 1060.2,455.0 1065.0,464.6 1070.7,471.2 1076.4,476.0 1082.0,477.9 1087.7,476.9 1093.4,475.0 1099.0,466.5 1104.8,455.0 1110.5,441.8 1116.2,426.7 1120.9,415.3 1124.7,408.7 1128.0,405.8" fill="none" stroke="#ff0000" stroke-width="1"/>
<polyline points="4.0,209.0 7.6,189.0 11.4,168.0 15.2,148.0 19.0,131.0 22.7,117.0 26.5,106.0" fill="none" stroke="#0000cd" stroke-width="1"/>
<polyline points="50.2,106.0 53.6,128.0 56.9,149.0 58.8,165.0 60.7,183.0 62.6,202.0 64.5,221.0 66.4,240.0 67.9,260.0 70.1,278.0 73.0,307.0 75.8,329.6 79.6,344.8 83.4,355.0 86.3,361.0 89.1,363.4 91.9,361.8 94.8,358.0 97.6,353.3 100.5,352.4 103.3,351.4 107.1,348.6 110.9,341.0 114.7,331.5 117.5,324.9 120.4,320.0 123.2,324.0 127.0,329.6 130.8,331.5 135.5,334.4 137.4,339.0 139.3,350.5 142.2,373.0 145.0,390.0 148.8,410.0 150.0,417.5 153.8,429.0 157.6,442.0 161.4,453.6 164.4,458.3 167.0,446.0 170.9,427.0 175.6,408.0 178.4,391.0 182.2,374.0 186.0,358.8 188.9,352.0 192.7,345.5 196.4,351.0 201.2,355.0 205.0,360.7 208.8,370.0 212.6,375.8 216.4,378.7 219.2,393.0 222.0,402.4 225.8,411.8 229.6,417.5 233.4,425.0 237.2,430.8 241.0,430.8 244.8,421.3 248.6,408.0 252.4,391.0 256.2,372.0 259.0,349.3 261.8,324.0 265.0,301.3 267.9,280.5 271.7,265.3 276.4,253.0 280.2,247.3 284.0,253.0 287.8,263.4 292.6,278.6 298.2,291.8 303.9,303.2 308.7,309.9 312.5,303.2 317.2,291.8 322.9,280.5 328.6,272.9 332.4,263.4 335.2,252.0 337.1,247.3 340.9,249.2 344.7,256.8 348.5,268.0 353.2,274.8 358.9,280.5 364.6,288.0 368.4,286.0 372.2,289.0 376.0,288.0 380.7,290.9 384.5,287.5 390.0,293.2 392.3,297.0 396.0,297.0 400.0,291.8 404.6,289.0 408.4,284.3 413.2,283.9 417.0,282.4 419.8,274.8 422.7,265.3 425.5,254.0 428.3,243.5 431.2,235.0 434.0,227.4 436.9,220.8 440.7,214.0 444.5,210.3 447.3,209.4 451.0,211.3 454.0,215.0 456.8,217.0 460.6,216.0 464.4,217.0 468.2,214.0 472.0,207.5 475.7,203.7 478.6,206.5 482.4,208.4 486.2,206.5 490.0,205.6 493.7,206.5 497.5,209.4 501.3,210.3 504.2,211.3 507.0,209.4 510.8,210.3 514.6,215.0 519.3,220.8 522.2,220.8 525.0,218.9 528.8,220.8 532.6,221.7 536.0,222.8 539.3,216.0 542.6,204.5 545.9,196.2 549.3,191.3 552.6,186.3 555.9,180.5 559.2,178.0 562.5,179.7 565.8,185.5 570.0,200.0 573.7,215.0 576.5,238.0 579.4,258.8 582.2,275.8 585.0,292.9 588.0,305.0 591.7,317.5 596.4,327.4 600.2,319.4 604.0,306.0 607.8,291.0 611.6,279.6 615.4,278.3 618.2,289.0 622.0,302.4 625.8,317.5 628.7,332.7 631.6,349.0 635.4,373.6 638.2,394.5 641.0,413.4 644.0,428.6 647.7,439.2 650.8,450.0 654.6,459.3 658.5,467.0 662.3,479.3 665.4,487.0 668.5,492.4 672.4,493.4 677.0,492.8 680.8,492.4 684.7,493.9 688.5,496.5 691.6,494.4 695.5,495.4 699.3,500.8 703.2,503.9 707.8,507.0 710.9,513.2 713.9,517.0 717.8,519.3 720.9,519.6 724.7,517.0 727.8,510.0 730.0,502.4 734.0,496.2 737.8,487.0 741.7,471.6 744.7,460.8 747.8,451.6 750.9,442.3 754.7,437.7 758.6,433.8 761.7,430.0 764.0,424.0 769.8,416.5 775.5,410.8 778.3,403.2 781.2,390.0 785.0,378.6 788.8,375.4 792.6,376.3 796.4,374.2 800.0,372.9 804.9,371.6 809.6,368.0 813.4,367.6 817.2,363.4 821.0,355.8 824.8,344.5 828.6,335.0 832.4,328.9 836.2,329.7 840.0,332.0 843.7,328.3 847.5,328.0 851.3,332.0 855.0,334.0 859.9,335.0 863.6,332.7 868.4,330.2 872.2,326.4 876.6,318.9 879.5,324.5 883.3,333.0 887.0,340.7 890.9,354.0 894.6,371.0 898.4,390.0 901.3,403.2 904.0,415.5 907.9,416.9 911.7,412.7 916.4,407.0 921.2,397.5 925.0,388.0 927.8,374.8 931.6,367.2 935.4,360.6 938.2,359.2 941.0,360.0 944.9,355.8 948.7,355.3 952.5,354.5 956.3,356.8 961.0,359.6 964.8,363.4 968.6,367.2 972.4,370.6 975.2,363.4 979.0,355.8 983.7,346.4 988.5,338.8 993.2,329.3 997.0,319.8 1000.4,312.2 1003.6,315.0 1006.5,322.7 1010.3,335.0 1014.0,346.4 1017.9,355.8 1021.7,367.2 1025.5,382.4 1028.3,399.4 1030.0,406.0 1031.8,415.0 1036.5,425.6 1040.2,436.0 1044.0,449.3 1047.8,462.6 1051.6,477.8 1055.4,487.2 1060.2,494.8 1064.9,503.4 1067.7,502.4 1071.5,494.8 1075.3,484.4 1079.0,475.9 1084.0,467.0 1089.6,455.0 1093.4,441.8 1096.3,436.0 1101.0,433.3 1104.8,428.6 1108.6,421.0 1112.4,409.6 1116.2,400.0 1120.0,390.7 1123.7,383.0 1128.5,376.4" fill="none" stroke="#0000cd" stroke-width="1"/>
</g>
<rect x="5" y="21" width="224" height="85" fill="#fff"/>
<rect x="4" y="233" width="1417" height="3" fill="#ff0000"/>
<rect x="4" y="349" width="1417" height="3" fill="#ff0000"/>
<rect x="4" y="449" width="1417" height="3" fill="#00ff00"/>
<rect x="4" y="557" width="1416" height="3" fill="#0000ff"/>
<rect x="4" y="447" width="6" height="7" fill="#00ff00"/>
<rect x="6" y="450" width="1" height="1" fill="#fff"/>
<rect x="1412" y="447" width="7" height="7" fill="#00ff00"/>
<rect x="1415" y="450" width="1" height="1" fill="#fff"/>
<rect x="4" y="579" width="1" height="39" fill="#c0c0c0"/>
<rect x="8" y="575" width="1" height="43" fill="#c0c0c0"/>
<rect x="12" y="574" width="1" height="44" fill="#c0c0c0"/>
<rect x="16" y="573" width="1" height="45" fill="#c0c0c0"/>
<rect x="20" y="572" width="1" height="46" fill="#c0c0c0"/>
<rect x="24" y="572" width="1" height="46" fill="#c0c0c0"/>
<rect x="28" y="572" width="1" height="46" fill="#c0c0c0"/>
<rect x="32" y="572" width="1" height="46" fill="#c0c0c0"/>
<rect x="36" y="572" width="1" height="46" fill="#c0c0c0"/>
<rect x="40" y="573" width="1" height="45" fill="#c0c0c0"/>
<rect x="44" y="574" width="1" height="44" fill="#c0c0c0"/>
<rect x="48" y="580" width="1" height="38" fill="#c0c0c0"/>
<rect x="52" y="590" width="1" height="28" fill="#c0c0c0"/>
<rect x="56" y="599" width="1" height="19" fill="#c0c0c0"/>
<rect x="60" y="610" width="1" height="8" fill="#c0c0c0"/>
<rect x="64" y="617" width="1" height="3" fill="#c0c0c0"/>
<rect x="68" y="617" width="1" height="12" fill="#c0c0c0"/>
<rect x="72" y="617" width="1" height="19" fill="#c0c0c0"/>
<rect x="76" y="617" width="1" height="22" fill="#c0c0c0"/>
<rect x="80" y="617" width="1" height="25" fill="#c0c0c0"/>
<rect x="84" y="617" width="1" height="26" fill="#c0c0c0"/>
<rect x="88" y="617" width="1" height="28" fill="#c0c0c0"/>
<rect x="92" y="617" width="1" height="28" fill="#c0c0c0"/>
<rect x="96" y="617" width="1" height="28" fill="#c0c0c0"/>
<rect x="100" y="617" width="1" height="27" fill="#c0c0c0"/>
<rect x="104" y="617" width="1" height="26" fill="#c0c0c0"/>
<rect x="108" y="617" width="1" height="25" fill="#c0c0c0"/>
<rect x="112" y="617" width="1" height="21" fill="#c0c0c0"/>
<rect x="116" y="617" width="1" height="18" fill="#c0c0c0"/>
<rect x="120" y="617" width="1" height="15" fill="#c0c0c0"/>
<rect x="124" y="617" width="1" height="18" fill="#c0c0c0"/>
<rect x="128" y="617" width="1" height="20" fill="#c0c0c0"/>
<rect x="132" y="617" width="1" height="20" fill="#c0c0c0"/>
<rect x="136" y="617" width="1" height="20" fill="#c0c0c0"/>
<rect x="140" y="617" width="1" height="23" fill="#c0c0c0"/>
<rect x="144" y="617" width="1" height="28" fill="#c0c0c0"/>
<rect x="148" y="617" width="1" height="33" fill="#c0c0c0"/>
<rect x="152" y="617" width="1" height="35" fill="#c0c0c0"/>
<rect x="156" y="617" width="1" height="36" fill="#c0c0c0"/>
<rect x="160" y="617" width="1" height="36" fill="#c0c0c0"/>
<rect x="164" y="617" width="1" height="32" fill="#c0c0c0"/>
<rect x="168" y="617" width="1" height="25" fill="#c0c0c0"/>
<rect x="172" y="617" width="1" height="20" fill="#c0c0c0"/>
<rect x="176" y="617" width="1" height="16" fill="#c0c0c0"/>
<rect x="180" y="617" width="1" height="12" fill="#c0c0c0"/>
<rect x="184" y="617" width="1" height="11" fill="#c0c0c0"/>
<rect x="188" y="617" width="1" height="8" fill="#c0c0c0"/>
<rect x="192" y="617" width="1" height="6" fill="#c0c0c0"/>
<rect x="196" y="617" width="1" height="6" fill="#c0c0c0"/>
<rect x="200" y="617" width="1" height="6" fill="#c0c0c0"/>
<rect x="204" y="617" width="1" height="6" fill="#c0c0c0"/>
<rect x="208" y="617" width="1" height="6" fill="#c0c0c0"/>
<rect x="212" y="617" width="1" height="8" fill="#c0c0c0"/>
<rect x="216" y="617" width="1" height="9" fill="#c0c0c0"/>
<rect x="220" y="617" width="1" height="11" fill="#c0c0c0"/>
<rect x="224" y="617" width="1" height="14" fill="#c0c0c0"/>
<rect x="228" y="617" width="1" height="14" fill="#c0c0c0"/>
<rect x="232" y="617" width="1" height="14" fill="#c0c0c0"/>
<rect x="236" y="617" width="1" height="16" fill="#c0c0c0"/>
<rect x="240" y="617" width="1" height="16" fill="#c0c0c0"/>
<rect x="244" y="617" width="1" height="10" fill="#c0c0c0"/>
<rect x="248" y="617" width="1" height="6" fill="#c0c0c0"/>
<rect x="252" y="617" width="1" height="1" fill="#c0c0c0"/>
<rect x="256" y="613" width="1" height="5" fill="#c0c0c0"/>
<rect x="260" y="605" width="1" height="13" fill="#c0c0c0"/>
<rect x="264" y="599" width="1" height="19" fill="#c0c0c0"/>
<rect x="268" y="596" width="1" height="22" fill="#c0c0c0"/>
<rect x="272" y="594" width="1" height="24" fill="#c0c0c0"/>
<rect x="276" y="593" width="1" height="25" fill="#c0c0c0"/>
<rect x="280" y="594" width="1" height="24" fill="#c0c0c0"/>
<rect x="284" y="598" width="1" height="20" fill="#c0c0c0"/>
<rect x="288" y="599" width="1" height="19" fill="#c0c0c0"/>
<rect x="292" y="601" width="1" height="17" fill="#c0c0c0"/>
<rect x="296" y="602" width="1" height="16" fill="#c0c0c0"/>
<rect x="300" y="604" width="1" height="14" fill="#c0c0c0"/>
<rect x="304" y="605" width="1" height="13" fill="#c0c0c0"/>
<rect x="308" y="608" width="1" height="10" fill="#c0c0c0"/>
<rect x="312" y="607" width="1" height="11" fill="#c0c0c0"/>
<rect x="316" y="605" width="1" height="13" fill="#c0c0c0"/>
<rect x="320" y="604" width="1" height="14" fill="#c0c0c0"/>
<rect x="324" y="602" width="1" height="16" fill="#c0c0c0"/>
<rect x="328" y="603" width="1" height="15" fill="#c0c0c0"/>
<rect x="332" y="602" width="1" height="16" fill="#c0c0c0"/>
<rect x="336" y="601" width="1" height="17" fill="#c0c0c0"/>
<rect x="340" y="603" width="1" height="15" fill="#c0c0c0"/>
<rect x="344" y="606" width="1" height="12" fill="#c0c0c0"/>
<rect x="348" y="609" width="1" height="9" fill="#c0c0c0"/>
<rect x="352" y="611" width="1" height="7" fill="#c0c0c0"/>
<rect x="356" y="612" width="1" height="6" fill="#c0c0c0"/>
<rect x="360" y="612" width="1" height="6" fill="#c0c0c0"/>
<rect x="364" y="612" width="1" height="6" fill="#c0c0c0"/>
<rect x="368" y="613" width="1" height="5" fill="#c0c0c0"/>
<rect x="372" y="616" width="1" height="2" fill="#c0c0c0"/>
<rect x="376" y="617" width="1" height="1" fill="#c0c0c0"/>
<rect x="380" y="616" width="1" height="2" fill="#c0c0c0"/>
<rect x="384" y="617" width="1" height="1" fill="#c0c0c0"/>
<rect x="388" y="617" width="1" height="1" fill="#c0c0c0"/>
<rect x="392" y="617" width="1" height="1" fill="#c0c0c0"/>
<rect x="396" y="617" width="1" height="1" fill="#c0c0c0"/>
<rect x="400" y="616" width="1" height="2" fill="#c0c0c0"/>
<rect x="404" y="616" width="1" height="2" fill="#c0c0c0"/>
<rect x="408" y="615" width="1" height="3" fill="#c0c0c0"/>
<rect x="412" y="616" width="1" height="2" fill="#c0c0c0"/>
<rect x="416" y="615" width="1" height="3" fill="#c0c0c0"/>
<rect x="420" y="613" width="1" height="5" fill="#c0c0c0"/>
<rect x="424" y="608" width="1" height="10" fill="#c0c0c0"/>
<rect x="428" y="605" width="1" height="13" fill="#c0c0c0"/>
<rect x="432" y="604" width="1" height="14" fill="#c0c0c0"/>
<rect x="436" y="603" width="1" height="15" fill="#c0c0c0"/>
<rect x="440" y="602" width="1" height="16" fill="#c0c0c0"/>
<rect x="444" y="605" width="1" height="13" fill="#c0c0c0"/>
<rect x="448" y="604" width="1" height="14" fill="#c0c0c0"/>
<rect x="452" y="605" width="1" height="13" fill="#c0c0c0"/>
<rect x="456" y="605" width="1" height="13" fill="#c0c0c0"/>
<rect x="460" y="605" width="1" height="13" fill="#c0c0c0"/>
<rect x="464" y="605" width="1" height="13" fill="#c0c0c0"/>
<rect x="468" y="605" width="1" height="13" fill="#c0c0c0"/>
<rect x="472" y="604" width="1" height="14" fill="#c0c0c0"/>
<rect x="476" y="605" width="1" height="13" fill="#c0c0c0"/>
<rect x="480" y="607" width="1" height="11" fill="#c0c0c0"/>
<rect x="484" y="608" width="1" height="10" fill="#c0c0c0"/>
<rect x="488" y="607" width="1" height="11" fill="#c0c0c0"/>
<rect x="492" y="608" width="1" height="10" fill="#c0c0c0"/>
<rect x="496" y="609" width="1" height="9" fill="#c0c0c0"/>
<rect x="500" y="609" width="1" height="9" fill="#c0c0c0"/>
<rect x="504" y="610" width="1" height="8" fill="#c0c0c0"/>
<rect x="508" y="611" width="1" height="7" fill="#c0c0c0"/>
<rect x="512" y="612" width="1" height="6" fill="#c0c0c0"/>
<rect x="516" y="615" width="1" height="3" fill="#c0c0c0"/>
<rect x="520" y="615" width="1" height="3" fill="#c0c0c0"/>
<rect x="524" y="614" width="1" height="4" fill="#c0c0c0"/>
<rect x="528" y="614" width="1" height="4" fill="#c0c0c0"/>
<rect x="532" y="615" width="1" height="3" fill="#c0c0c0"/>
<rect x="536" y="614" width="1" height="4" fill="#c0c0c0"/>
<rect x="540" y="613" width="1" height="5" fill="#c0c0c0"/>
<rect x="544" y="611" width="1" height="7" fill="#c0c0c0"/>
<rect x="548" y="609" width="1" height="9" fill="#c0c0c0"/>
<rect x="552" y="607" width="1" height="11" fill="#c0c0c0"/>
<rect x="556" y="606" width="1" height="12" fill="#c0c0c0"/>
<rect x="560" y="609" width="1" height="9" fill="#c0c0c0"/>
<rect x="564" y="613" width="1" height="5" fill="#c0c0c0"/>
<rect x="568" y="616" width="1" height="2" fill="#c0c0c0"/>
<rect x="572" y="617" width="1" height="3" fill="#c0c0c0"/>
<rect x="576" y="617" width="1" height="10" fill="#c0c0c0"/>
<rect x="580" y="617" width="1" height="16" fill="#c0c0c0"/>
<rect x="584" y="617" width="1" height="20" fill="#c0c0c0"/>
<rect x="588" y="617" width="1" height="21" fill="#c0c0c0"/>
<rect x="592" y="617" width="1" height="21" fill="#c0c0c0"/>
<rect x="596" y="617" width="1" height="21" fill="#c0c0c0"/>
<rect x="600" y="617" width="1" height="16" fill="#c0c0c0"/>
<rect x="604" y="617" width="1" height="14" fill="#c0c0c0"/>
<rect x="608" y="617" width="1" height="10" fill="#c0c0c0"/>
<rect x="612" y="617" width="1" height="10" fill="#c0c0c0"/>
<rect x="616" y="617" width="1" height="14" fill="#c0c0c0"/>
<rect x="620" y="617" width="1" height="20" fill="#c0c0c0"/>
<rect x="624" y="617" width="1" height="24" fill="#c0c0c0"/>
<rect x="628" y="617" width="1" height="26" fill="#c0c0c0"/>
<rect x="632" y="617" width="1" height="30" fill="#c0c0c0"/>
<rect x="636" y="617" width="1" height="32" fill="#c0c0c0"/>
<rect x="640" y="617" width="1" height="36" fill="#c0c0c0"/>
<rect x="644" y="617" width="1" height="39" fill="#c0c0c0"/>
<rect x="648" y="617" width="1" height="42" fill="#c0c0c0"/>
<rect x="652" y="617" width="1" height="44" fill="#c0c0c0"/>
<rect x="656" y="617" width="1" height="43" fill="#c0c0c0"/>
<rect x="660" y="617" width="1" height="43" fill="#c0c0c0"/>
<rect x="664" y="617" width="1" height="44" fill="#c0c0c0"/>
<rect x="668" y="617" width="1" height="44" fill="#c0c0c0"/>
<rect x="672" y="617" width="1" height="44" fill="#c0c0c0"/>
<rect x="676" y="617" width="1" height="42" fill="#c0c0c0"/>
<rect x="680" y="617" width="1" height="40" fill="#c0c0c0"/>
<rect x="684" y="617" width="1" height="38" fill="#c0c0c0"/>
<rect x="688" y="617" width="1" height="36" fill="#c0c0c0"/>
<rect x="692" y="617" width="1" height="35" fill="#c0c0c0"/>
<rect x="696" y="617" width="1" height="35" fill="#c0c0c0"/>
<rect x="700" y="617" width="1" height="34" fill="#c0c0c0"/>
<rect x="704" y="617" width="1" height="33" fill="#c0c0c0"/>
<rect x="708" y="617" width="1" height="32" fill="#c0c0c0"/>
<rect x="712" y="617" width="1" height="30" fill="#c0c0c0"/>
<rect x="716" y="617" width="1" height="29" fill="#c0c0c0"/>
<rect x="720" y="617" width="1" height="28" fill="#c0c0c0"/>
<rect x="724" y="617" width="1" height="26" fill="#c0c0c0"/>
<rect x="728" y="617" width="1" height="21" fill="#c0c0c0"/>
<rect x="732" y="617" width="1" height="18" fill="#c0c0c0"/>
<rect x="736" y="617" width="1" height="14" fill="#c0c0c0"/>
<rect x="740" y="617" width="1" height="10" fill="#c0c0c0"/>
<rect x="744" y="617" width="1" height="7" fill="#c0c0c0"/>
<rect x="748" y="617" width="1" height="3" fill="#c0c0c0"/>
<rect x="752" y="617" width="1" height="1" fill="#c0c0c0"/>
<rect x="756" y="617" width="1" height="1" fill="#c0c0c0"/>
<rect x="760" y="617" width="1" height="1" fill="#c0c0c0"/>
<rect x="764" y="613" width="1" height="5" fill="#c0c0c0"/>
<rect x="768" y="611" width="1" height="7" fill="#c0c0c0"/>
<rect x="772" y="610" width="1" height="8" fill="#c0c0c0"/>
<rect x="776" y="609" width="1" height="9" fill="#c0c0c0"/>
<rect x="780" y="605" width="1" height="13" fill="#c0c0c0"/>
<rect x="784" y="601" width="1" height="17" fill="#c0c0c0"/>
<rect x="788" y="601" width="1" height="17" fill="#c0c0c0"/>
<rect x="792" y="604" width="1" height="14" fill="#c0c0c0"/>
<rect x="796" y="604" width="1" height="14" fill="#c0c0c0"/>
<rect x="800" y="604" width="1" height="14" fill="#c0c0c0"/>
<rect x="804" y="604" width="1" height="14" fill="#c0c0c0"/>
<rect x="808" y="602" width="1" height="16" fill="#c0c0c0"/>
<rect x="812" y="600" width="1" height="18" fill="#c0c0c0"/>
<rect x="816" y="600" width="1" height="18" fill="#c0c0c0"/>
<rect x="820" y="601" width="1" height="17" fill="#c0c0c0"/>
<rect x="824" y="599" width="1" height="19" fill="#c0c0c0"/>
<rect x="828" y="598" width="1" height="20" fill="#c0c0c0"/>
<rect x="832" y="599" width="1" height="19" fill="#c0c0c0"/>
<rect x="836" y="599" width="1" height="19" fill="#c0c0c0"/>
<rect x="840" y="599" width="1" height="19" fill="#c0c0c0"/>
<rect x="844" y="600" width="1" height="18" fill="#c0c0c0"/>
<rect x="848" y="603" width="1" height="15" fill="#c0c0c0"/>
<rect x="852" y="604" width="1" height="14" fill="#c0c0c0"/>
<rect x="856" y="604" width="1" height="14" fill="#c0c0c0"/>
<rect x="860" y="605" width="1" height="13" fill="#c0c0c0"/>
<rect x="864" y="604" width="1" height="14" fill="#c0c0c0"/>
<rect x="868" y="604" width="1" height="14" fill="#c0c0c0"/>
<rect x="872" y="604" width="1" height="14" fill="#c0c0c0"/>
<rect x="876" y="603" width="1" height="15" fill="#c0c0c0"/>
<rect x="880" y="608" width="1" height="10" fill="#c0c0c0"/>
<rect x="884" y="611" width="1" height="7" fill="#c0c0c0"/>
<rect x="888" y="616" width="1" height="2" fill="#c0c0c0"/>
<rect x="892" y="617" width="1" height="3" fill="#c0c0c0"/>
<rect x="896" y="617" width="1" height="7" fill="#c0c0c0"/>
<rect x="900" y="617" width="1" height="10" fill="#c0c0c0"/>
<rect x="904" y="617" width="1" height="10" fill="#c0c0c0"/>
<rect x="908" y="617" width="1" height="11" fill="#c0c0c0"/>
<rect x="912" y="617" width="1" height="6" fill="#c0c0c0"/>
<rect x="916" y="617" width="1" height="7" fill="#c0c0c0"/>
<rect x="920" y="617" width="1" height="6" fill="#c0c0c0"/>
<rect x="924" y="617" width="1" height="5" fill="#c0c0c0"/>
<rect x="928" y="617" width="1" height="2" fill="#c0c0c0"/>
<rect x="932" y="617" width="1" height="1" fill="#c0c0c0"/>
<rect x="936" y="617" width="1" height="1" fill="#c0c0c0"/>
<rect x="940" y="616" width="1" height="2" fill="#c0c0c0"/>
<rect x="944" y="617" width="1" height="1" fill="#c0c0c0"/>
<rect x="948" y="617" width="1" height="1" fill="#c0c0c0"/>
<rect x="952" y="617" width="1" height="1" fill="#c0c0c0"/>
<rect x="956" y="617" width="1" height="1" fill="#c0c0c0"/>
<rect x="960" y="617" width="1" height="1" fill="#c0c0c0"/>
<rect x="964" y="617" width="1" height="1" fill="#c0c0c0"/>
<rect x="968" y="617" width="1" height="1" fill="#c0c0c0"/>
<rect x="972" y="617" width="1" height="1" fill="#c0c0c0"/>
<rect x="976" y="616" width="1" height="2" fill="#c0c0c0"/>
<rect x="980" y="613" width="1" height="5" fill="#c0c0c0"/>
<rect x="984" y="611" width="1" height="7" fill="#c0c0c0"/>
<rect x="988" y="610" width="1" height="8" fill="#c0c0c0"/>
<rect x="992" y="610" width="1" height="8" fill="#c0c0c0"/>
<rect x="996" y="609" width="1" height="9" fill="#c0c0c0"/>
<rect x="1000" y="608" width="1" height="10" fill="#c0c0c0"/>
<rect x="1004" y="609" width="1" height="9" fill="#c0c0c0"/>
<rect x="1008" y="615" width="1" height="3" fill="#c0c0c0"/>
<rect x="1012" y="617" width="1" height="1" fill="#c0c0c0"/>
<rect x="1016" y="617" width="1" height="3" fill="#c0c0c0"/>
<rect x="1020" y="617" width="1" height="5" fill="#c0c0c0"/>
<rect x="1024" y="617" width="1" height="7" fill="#c0c0c0"/>
<rect x="1028" y="617" width="1" height="11" fill="#c0c0c0"/>
<rect x="1032" y="617" width="1" height="15" fill="#c0c0c0"/>
<rect x="1036" y="617" width="1" height="17" fill="#c0c0c0"/>
<rect x="1040" y="617" width="1" height="21" fill="#c0c0c0"/>
<rect x="1044" y="617" width="1" height="23" fill="#c0c0c0"/>
<rect x="1048" y="617" width="1" height="25" fill="#c0c0c0"/>
<rect x="1052" y="617" width="1" height="26" fill="#c0c0c0"/>
<rect x="1056" y="617" width="1" height="27" fill="#c0c0c0"/>
<rect x="1060" y="617" width="1" height="29" fill="#c0c0c0"/>
<rect x="1064" y="617" width="1" height="30" fill="#c0c0c0"/>
<rect x="1068" y="617" width="1" height="27" fill="#c0c0c0"/>
<rect x="1072" y="617" width="1" height="24" fill="#c0c0c0"/>
<rect x="1076" y="617" width="1" height="20" fill="#c0c0c0"/>
<rect x="1080" y="617" width="1" height="18" fill="#c0c0c0"/>
<rect x="1084" y="617" width="1" height="16" fill="#c0c0c0"/>
<rect x="1088" y="617" width="1" height="14" fill="#c0c0c0"/>
<rect x="1092" y="617" width="1" height="12" fill="#c0c0c0"/>
<rect x="1096" y="617" width="1" height="9" fill="#c0c0c0"/>
<rect x="1100" y="617" width="1" height="7" fill="#c0c0c0"/>
<rect x="1104" y="617" width="1" height="4" fill="#c0c0c0"/>
<rect x="1108" y="617" width="1" height="1" fill="#c0c0c0"/>
<rect x="1112" y="615" width="1" height="3" fill="#c0c0c0"/>
<rect x="1116" y="613" width="1" height="5" fill="#c0c0c0"/>
<rect x="1120" y="611" width="1" height="7" fill="#c0c0c0"/>
<rect x="1124" y="609" width="1" height="9" fill="#c0c0c0"/>
<rect x="1128" y="609" width="1" height="9" fill="#c0c0c0"/>
<polyline points="4.4,588.4 8.2,586.7 12.3,584.3 17.8,580.5 23.2,577.5 28.7,575.3 34.2,574.4 42.0,573.0 52.0,573.7 58.8,578.5 62.9,584.0 67.0,591.4 71.0,597.6 74.5,603.7 78.0,610.0 82.0,616.0 84.8,622.2 88.2,628.4 93.0,634.5 98.4,639.0 104.6,642.3 109.4,642.4 116.2,641.6 123.0,639.3 129.9,638.2 136.7,636.8 140.8,636.6 146.3,637.9 151.7,640.4 158.6,643.4 164.0,645.9 170.2,646.4 176.3,645.4 182.5,642.0 188.7,637.9 192.5,635.1 196.6,631.4 200.7,627.6 205.6,625.3 211.3,624.5 217.9,624.5 224.4,625.3 230.2,625.6 235.9,628.0 240.9,629.4 247.4,629.4 254.0,627.3 258.9,624.0 264.6,618.6 270.4,613.3 275.3,608.4 280.2,603.5 285.1,600.2 290.0,598.0 296.6,597.4 303.2,597.7 308.1,599.9 313.0,602.2 318.0,603.3 329.4,603.3 337.6,603.3 350.8,603.3 355.7,605.1 362.2,606.6 368.0,608.4 373.7,610.0 379.5,612.5 385.2,613.5 391.0,614.1 396.7,615.4 403.3,616.4 409.8,616.4 416.4,616.4 420.0,616.1 424.9,613.8 429.8,612.8 434.8,611.2 439.7,608.6 444.6,607.6 450.3,605.3 456.0,604.6 461.0,603.5 469.2,603.3 474.0,603.5 477.4,604.5 485.6,604.6 493.8,605.4 500.4,606.4 508.6,606.6 513.5,608.9 520.0,609.5 525.0,610.5 531.5,611.5 536.5,613.5 543.0,613.5 549.6,613.2 554.5,611.8 559.4,610.4 567.6,610.4 572.6,611.5 577.5,612.8 582.4,616.6 587.3,621.0 592.2,624.8 597.2,628.6 602.0,631.0 607.0,633.3 613.6,633.5 620.0,633.5 626.7,633.5 631.6,635.1 638.2,637.9 643.0,641.2 648.0,646.1 653.0,648.6 657.0,651.5 660.7,653.5 666.4,656.8 673.0,658.4 679.5,659.4 685.3,658.4 691.0,657.4 697.6,656.3 703.3,654.5 709.0,652.4 715.6,650.2 721.4,649.4 727.0,647.0 732.8,644.5 739.4,640.4 745.0,636.3 751.7,631.8 757.4,627.3 763.2,623.2 769.8,618.7 775.5,615.8 781.2,612.2 787.8,608.4 793.5,606.4 799.3,604.6 805.0,604.3 811.6,602.7 817.3,601.7 823.0,601.3 829.6,600.4 835.4,599.5 841.0,599.2 844.4,598.0 847.7,599.4 853.4,599.4 859.0,599.7 861.6,601.0 867.4,601.3 871.5,602.3 878.0,602.5 883.0,604.0 890.0,605.3 895.0,608.5 900.0,612.5 906.6,616.6 913.0,620.7 919.7,623.2 926.2,624.5 932.8,623.2 938.5,622.0 944.3,619.0 949.2,618.2 955.8,617.4 962.3,616.6 969.0,616.6 975.5,616.6 980.4,616.4 985.3,615.0 991.9,614.3 996.8,613.5 1001.7,611.7 1008.3,610.5 1013.2,610.5 1017.3,611.7 1022.2,612.8 1027.0,615.8 1032.9,619.0 1038.6,623.2 1044.4,627.6 1050.0,631.4 1056.7,635.8 1062.4,639.2 1069.0,641.5 1075.5,642.5 1082.0,641.0 1087.0,639.6 1093.6,636.8 1099.3,633.3 1105.0,629.7 1111.6,625.6 1117.4,622.0 1124.0,617.7 1128.0,615.0" fill="none" stroke="#ff0000" stroke-width="1" stroke-dasharray="3 3"/>
<line x1="5" y1="708.5" x2="1419" y2="708.5" stroke="#c0c0c0" stroke-dasharray="3 3"/>
<line x1="5" y1="759.5" x2="1419" y2="759.5" stroke="#c0c0c0" stroke-dasharray="3 3"/>
<polyline points="4.1,703.4 9.0,703.4 12.3,705.0 16.4,705.4 20.5,708.3 24.6,704.0 28.2,702.0 32.8,705.0 36.4,706.2 40.2,705.0 44.3,705.0 46.0,716.9 48.0,731.6 49.7,738.2 52.5,745.2 55.8,747.2 59.9,753.0 64.0,757.5 68.6,761.5 72.2,757.0 76.3,751.3 80.4,751.3 84.5,750.2 88.6,751.0 92.7,752.5 96.8,747.2 100.4,749.3 104.7,747.2 108.3,744.0 112.4,732.4 116.5,735.2 120.6,733.0 124.7,750.5 128.0,751.3 132.0,744.0 135.8,742.0 140.3,754.6 144.4,757.9 149.0,760.7 152.6,758.2 156.7,755.4 160.8,752.0 164.9,736.5 168.6,726.7 173.0,731.6 176.3,730.3 180.4,727.5 184.5,737.4 188.6,733.3 192.7,729.2 196.5,734.0 200.5,736.2 204.6,736.5 208.3,739.0 212.4,744.4 216.5,736.5 220.6,746.4 224.7,746.4 228.8,739.3 233.3,741.5 236.6,743.4 240.2,740.6 242.3,730.0 244.4,724.2 248.4,726.4 252.1,723.4 256.2,719.3 260.3,712.8 264.4,712.8 268.5,717.7 272.3,716.0 276.0,719.3 280.0,725.0 284.5,733.3 288.2,730.0 292.3,728.3 296.4,728.3 300.5,729.2 304.6,730.8 308.7,737.4 312.0,726.7 315.3,721.8 319.4,719.3 323.5,723.4 328.4,727.5 332.5,722.6 336.3,720.0 340.2,733.0 344.3,733.3 348.4,738.5 352.7,734.6 356.3,734.0 360.4,731.6 364.5,727.5 368.6,730.8 372.4,739.0 376.3,737.4 380.0,738.2 384.2,729.6 388.3,736.5 392.4,736.5 396.5,730.5 400.6,732.4 404.2,733.3 408.0,730.8 412.0,728.3 416.5,735.7 420.3,722.6 424.4,714.4 428.5,717.7 432.6,721.4 436.7,720.0 440.5,722.3 444.4,734.0 448.2,727.5 452.3,722.6 456.4,730.3 460.5,724.2 464.0,728.3 468.2,725.4 472.3,724.2 476.4,726.4 480.5,734.0 484.6,730.0 488.7,725.4 492.8,728.3 496.4,731.0 500.2,728.3 504.3,732.4 508.4,731.3 512.5,735.2 516.6,739.5 520.7,732.4 524.5,726.4 528.6,733.3 532.5,733.3 536.3,733.3 540.4,724.2 544.5,719.8 548.6,717.2 552.7,720.0 556.5,720.5 560.4,737.4 564.5,745.6 568.3,739.8 572.4,748.0 576.5,757.4 580.6,757.4 584.7,757.4 588.4,754.6 592.5,743.4 596.2,744.4 600.3,730.5 604.4,731.3 608.5,731.3 612.6,737.4 616.2,748.8 620.3,757.0 624.4,753.3 628.5,754.3 632.2,755.4 636.3,755.9 640.0,760.8 644.0,762.8 648.2,764.4 652.3,762.0 656.4,753.8 660.0,756.2 664.2,759.8 668.3,761.0 672.0,753.4 676.2,754.6 680.3,749.7 684.4,744.4 688.3,751.3 692.5,751.3 696.6,756.5 700.2,755.4 704.0,753.0 708.4,744.4 712.5,748.5 716.6,751.3 720.3,745.6 724.4,746.4 728.5,732.4 732.3,730.3 736.4,730.3 740.5,726.7 744.6,725.0 748.6,725.0 752.3,726.7 756.4,730.3 760.5,721.0 764.6,719.0 768.7,719.3 772.5,721.3 776.6,718.8 780.7,709.0 784.6,705.4 788.4,725.9 792.5,729.5 796.6,727.0 800.7,724.2 804.5,729.2 808.4,716.5 812.2,715.2 816.3,724.2 820.4,725.4 824.5,717.3 828.6,719.3 832.4,725.4 836.3,723.4 840.0,724.2 844.2,721.8 848.3,733.3 852.4,728.7 856.5,724.2 860.6,729.5 864.7,723.4 868.5,724.2 872.4,721.3 876.5,721.4 880.3,741.5 884.4,740.6 888.5,747.2 892.6,748.3 896.4,748.3 900.5,751.3 904.4,743.0 908.5,737.4 912.4,727.5 916.5,737.4 920.5,733.3 924.0,733.3 928.2,725.4 932.3,731.3 936.4,729.2 940.5,730.3 944.6,731.3 948.7,735.4 952.5,732.0 956.4,730.3 960.5,735.2 964.3,736.5 968.4,735.2 972.5,739.3 976.6,721.0 980.4,720.0 984.5,723.4 988.6,726.4 992.5,726.4 996.6,723.7 1000.4,721.8 1004.5,731.6 1008.3,748.5 1012.4,744.4 1016.5,740.3 1020.4,743.0 1024.5,743.4 1028.3,752.0 1032.4,753.4 1036.5,751.3 1040.6,756.2 1044.7,755.4 1048.4,757.4 1052.5,757.4 1056.5,758.7 1060.6,758.4 1064.4,759.5 1068.5,750.5 1071.7,735.0 1075.0,732.0 1077.5,733.3 1080.3,737.4 1084.4,737.4 1088.5,735.4 1092.2,734.4 1096.3,728.3 1100.4,730.0 1104.5,720.0 1108.3,721.4 1112.3,719.3 1116.4,719.3 1120.5,716.4 1124.2,717.3 1128.0,720.6" fill="none" stroke="#1e90ff" stroke-width="1"/>
<rect x="3" y="20" width="1417" height="1" fill="#000"/>
<rect x="3" y="20" width="1" height="779" fill="#000"/>
<rect x="1419" y="20" width="1" height="779" fill="#000"/>
<rect x="3" y="798" width="1417" height="1" fill="#000"/>
<rect x="3" y="560" width="1417" height="1" fill="#000"/>
<rect x="3" y="562" width="1417" height="1" fill="#000"/>
<rect x="3" y="666" width="1417" height="1" fill="#000"/>
<rect x="3" y="668" width="1417" height="1" fill="#000"/>
<rect x="4" y="561" width="1416" height="1" fill="#fff"/>
<rect x="4" y="667" width="1416" height="1" fill="#fff"/>
<rect x="1420" y="557" width="1" height="1" fill="#000"/>
<rect x="1420" y="563" width="1" height="1" fill="#000"/>
<rect x="1420" y="665" width="1" height="1" fill="#000"/>
<rect x="1420" y="669" width="1" height="1" fill="#000"/>
<polygon points="1130,21 1139.5,21 1134.7,26" fill="#c0c0c0"/>
<rect x="1420" y="29" width="2" height="1" fill="#000"/>
<text x="1425.4" y="32.3" font-size="9.75" fill="#000" textLength="32.4" lengthAdjust="spacingAndGlyphs" stroke="#000" stroke-width="0.15">1.36870</text>
<rect x="1420" y="62" width="2" height="1" fill="#000"/>
<text x="1425.4" y="65.3" font-size="9.75" fill="#000" textLength="32.4" lengthAdjust="spacingAndGlyphs" stroke="#000" stroke-width="0.15">1.36440</text>
<rect x="1420" y="95" width="2" height="1" fill="#000"/>
<text x="1425.4" y="98.3" font-size="9.75" fill="#000" textLength="32.4" lengthAdjust="spacingAndGlyphs" stroke="#000" stroke-width="0.15">1.36010</text>
<rect x="1420" y="128" width="2" height="1" fill="#000"/>
<text x="1425.4" y="131.3" font-size="9.75" fill="#000" textLength="32.4" lengthAdjust="spacingAndGlyphs" stroke="#000" stroke-width="0.15">1.35580</text>
<rect x="1420" y="161" width="2" height="1" fill="#000"/>
<text x="1425.4" y="164.3" font-size="9.75" fill="#000" textLength="32.4" lengthAdjust="spacingAndGlyphs" stroke="#000" stroke-width="0.15">1.35160</text>
<rect x="1420" y="194" width="2" height="1" fill="#000"/>
<text x="1425.4" y="197.3" font-size="9.75" fill="#000" textLength="32.4" lengthAdjust="spacingAndGlyphs" stroke="#000" stroke-width="0.15">1.34730</text>
<rect x="1420" y="227" width="2" height="1" fill="#000"/>
<text x="1425.4" y="230.3" font-size="9.75" fill="#000" textLength="32.4" lengthAdjust="spacingAndGlyphs" stroke="#000" stroke-width="0.15">1.34300</text>
<rect x="1420" y="260" width="2" height="1" fill="#000"/>
<text x="1425.4" y="263.3" font-size="9.75" fill="#000" textLength="32.4" lengthAdjust="spacingAndGlyphs" stroke="#000" stroke-width="0.15">1.33870</text>
<rect x="1420" y="293" width="2" height="1" fill="#000"/>
<text x="1425.4" y="296.3" font-size="9.75" fill="#000" textLength="32.4" lengthAdjust="spacingAndGlyphs" stroke="#000" stroke-width="0.15">1.33440</text>
<rect x="1420" y="326" width="2" height="1" fill="#000"/>
<text x="1425.4" y="329.3" font-size="9.75" fill="#000" textLength="32.4" lengthAdjust="spacingAndGlyphs" stroke="#000" stroke-width="0.15">1.33010</text>
<rect x="1420" y="359" width="2" height="1" fill="#000"/>
<text x="1425.4" y="362.3" font-size="9.75" fill="#000" textLength="32.4" lengthAdjust="spacingAndGlyphs" stroke="#000" stroke-width="0.15">1.32580</text>
<rect x="1420" y="392" width="2" height="1" fill="#000"/>
<text x="1425.4" y="395.3" font-size="9.75" fill="#000" textLength="32.4" lengthAdjust="spacingAndGlyphs" stroke="#000" stroke-width="0.15">1.32150</text>
<rect x="1420" y="425" width="2" height="1" fill="#000"/>
<text x="1425.4" y="428.3" font-size="9.75" fill="#000" textLength="32.4" lengthAdjust="spacingAndGlyphs" stroke="#000" stroke-width="0.15">1.31730</text>
<rect x="1420" y="458" width="2" height="1" fill="#000"/>
<text x="1425.4" y="461.3" font-size="9.75" fill="#000" textLength="32.4" lengthAdjust="spacingAndGlyphs" stroke="#000" stroke-width="0.15">1.31300</text>
<rect x="1420" y="491" width="2" height="1" fill="#000"/>
<text x="1425.4" y="494.3" font-size="9.75" fill="#000" textLength="32.4" lengthAdjust="spacingAndGlyphs" stroke="#000" stroke-width="0.15">1.30870</text>
<rect x="1420" y="524" width="2" height="1" fill="#000"/>
<text x="1425.4" y="527.3" font-size="9.75" fill="#000" textLength="32.4" lengthAdjust="spacingAndGlyphs" stroke="#000" stroke-width="0.15">1.30440</text>
<text x="1423.2" y="574" font-size="9.75" fill="#000" textLength="37" lengthAdjust="spacingAndGlyphs" stroke="#000" stroke-width="0.15">0.010311</text>
<rect x="1420" y="617" width="2" height="1" fill="#000"/>
<text x="1423.2" y="621" font-size="9.75" fill="#000" textLength="17" lengthAdjust="spacingAndGlyphs" stroke="#000" stroke-width="0.15">0.00</text>
<text x="1423.2" y="664" font-size="9.75" fill="#000" textLength="40.5" lengthAdjust="spacingAndGlyphs" stroke="#000" stroke-width="0.15">-0.009203</text>
<text x="1423.2" y="679" font-size="9.75" fill="#000" textLength="14.2" lengthAdjust="spacingAndGlyphs" stroke="#000" stroke-width="0.15">100</text>
<text x="1422.6" y="711.6" font-size="9.75" fill="#000" textLength="9.2" lengthAdjust="spacingAndGlyphs" stroke="#000" stroke-width="0.15">70</text>
<text x="1422.6" y="762.6" font-size="9.75" fill="#000" textLength="9.2" lengthAdjust="spacingAndGlyphs" stroke="#000" stroke-width="0.15">30</text>
<text x="1423.2" y="794.7" font-size="9.75" fill="#000" textLength="4.8" lengthAdjust="spacingAndGlyphs" stroke="#000" stroke-width="0.15">0</text>
<rect x="1421" y="228" width="41" height="11" fill="#ff0000"/>
<text x="1425.4" y="237" font-size="9.75" fill="#fff" textLength="32.2" lengthAdjust="spacingAndGlyphs" stroke="#fff" stroke-width="0.15">1.34206</text>
<rect x="1421" y="344" width="41" height="11" fill="#ff0000"/>
<text x="1425.4" y="353" font-size="9.75" fill="#fff" textLength="32.2" lengthAdjust="spacingAndGlyphs" stroke="#fff" stroke-width="0.15">1.32701</text>
<rect x="1421" y="371" width="41" height="11" fill="#000"/>
<text x="1425.4" y="380" font-size="9.75" fill="#fff" textLength="32.2" lengthAdjust="spacingAndGlyphs" stroke="#fff" stroke-width="0.15">1.32361</text>
<rect x="1421" y="444" width="41" height="11" fill="#00ff00"/>
<text x="1425.4" y="453" font-size="9.75" fill="#fff" textLength="32.2" lengthAdjust="spacingAndGlyphs" stroke="#fff" stroke-width="0.15">1.31407</text>
<rect x="1421" y="552" width="41" height="11" fill="#0000ff"/>
<text x="1425.4" y="561" font-size="9.75" fill="#fff" textLength="32.2" lengthAdjust="spacingAndGlyphs" stroke="#fff" stroke-width="0.15">1.30004</text>
<rect x="4" y="799" width="1" height="3" fill="#000"/>
<text x="3" y="811" font-size="9.75" fill="#000" textLength="51.0" lengthAdjust="spacingAndGlyphs" stroke="#000" stroke-width="0.15">21 Dec 2018</text>
<rect x="68" y="799" width="1" height="3" fill="#000"/>
<text x="67.5" y="811" font-size="9.75" fill="#000" textLength="44.5" lengthAdjust="spacingAndGlyphs" stroke="#000" stroke-width="0.15">9 Jan 2019</text>
<rect x="132" y="799" width="1" height="3" fill="#000"/>
<text x="131.5" y="811" font-size="9.75" fill="#000" textLength="49.5" lengthAdjust="spacingAndGlyphs" stroke="#000" stroke-width="0.15">28 Jan 2019</text>
<rect x="196" y="799" width="1" height="3" fill="#000"/>
<text x="195.5" y="811" font-size="9.75" fill="#000" textLength="50.5" lengthAdjust="spacingAndGlyphs" stroke="#000" stroke-width="0.15">15 Feb 2019</text>
<rect x="260" y="799" width="1" height="3" fill="#000"/>
<text x="259.5" y="811" font-size="9.75" fill="#000" textLength="45.5" lengthAdjust="spacingAndGlyphs" stroke="#000" stroke-width="0.15">6 Mar 2019</text>
<rect x="324" y="799" width="1" height="3" fill="#000"/>
<text x="323.5" y="811" font-size="9.75" fill="#000" textLength="50.5" lengthAdjust="spacingAndGlyphs" stroke="#000" stroke-width="0.15">25 Mar 2019</text>
<rect x="388" y="799" width="1" height="3" fill="#000"/>
<text x="387.5" y="811" font-size="9.75" fill="#000" textLength="48.5" lengthAdjust="spacingAndGlyphs" stroke="#000" stroke-width="0.15">12 Apr 2019</text>
<rect x="452" y="799" width="1" height="3" fill="#000"/>
<text x="451.5" y="811" font-size="9.75" fill="#000" textLength="47.0" lengthAdjust="spacingAndGlyphs" stroke="#000" stroke-width="0.15">2 May 2019</text>
<rect x="516" y="799" width="1" height="3" fill="#000"/>
<text x="515.5" y="811" font-size="9.75" fill="#000" textLength="52.0" lengthAdjust="spacingAndGlyphs" stroke="#000" stroke-width="0.15">21 May 2019</text>
<rect x="580" y="799" width="1" height="3" fill="#000"/>
<text x="579.5" y="811" font-size="9.75" fill="#000" textLength="44.5" lengthAdjust="spacingAndGlyphs" stroke="#000" stroke-width="0.15">9 Jun 2019</text>
<rect x="644" y="799" width="1" height="3" fill="#000"/>
<text x="643.5" y="811" font-size="9.75" fill="#000" textLength="49.5" lengthAdjust="spacingAndGlyphs" stroke="#000" stroke-width="0.15">27 Jun 2019</text>
<rect x="708" y="799" width="1" height="3" fill="#000"/>
<text x="707.5" y="811" font-size="9.75" fill="#000" textLength="46.5" lengthAdjust="spacingAndGlyphs" stroke="#000" stroke-width="0.15">16 Jul 2019</text>
<rect x="772" y="799" width="1" height="3" fill="#000"/>
<text x="771.5" y="811" font-size="9.75" fill="#000" textLength="45.5" lengthAdjust="spacingAndGlyphs" stroke="#000" stroke-width="0.15">4 Aug 2019</text>
<rect x="836" y="799" width="1" height="3" fill="#000"/>
<text x="835.5" y="811" font-size="9.75" fill="#000" textLength="50.5" lengthAdjust="spacingAndGlyphs" stroke="#000" stroke-width="0.15">22 Aug 2019</text>
<rect x="900" y="799" width="1" height="3" fill="#000"/>
<text x="899.5" y="811" font-size="9.75" fill="#000" textLength="51.0" lengthAdjust="spacingAndGlyphs" stroke="#000" stroke-width="0.15">10 Sep 2019</text>
<rect x="964" y="799" width="1" height="3" fill="#000"/>
<text x="963.5" y="811" font-size="9.75" fill="#000" textLength="51.0" lengthAdjust="spacingAndGlyphs" stroke="#000" stroke-width="0.15">29 Sep 2019</text>
<rect x="1028" y="799" width="1" height="3" fill="#000"/>
<text x="1027.5" y="811" font-size="9.75" fill="#000" textLength="49.0" lengthAdjust="spacingAndGlyphs" stroke="#000" stroke-width="0.15">17 Oct 2019</text>
<rect x="1092" y="799" width="1" height="3" fill="#000"/>
<text x="1091.5" y="811" font-size="9.75" fill="#000" textLength="46.0" lengthAdjust="spacingAndGlyphs" stroke="#000" stroke-width="0.15">5 Nov 2019</text>
<rect x="10" y="27" width="2" height="1" fill="#000"/>
<rect x="9" y="28" width="4" height="1" fill="#000"/>
<rect x="8" y="29" width="6" height="1" fill="#000"/>
<rect x="7" y="30" width="8" height="1" fill="#000"/>
<text x="19.5" y="31.6" font-size="9.75" fill="#000" textLength="68" lengthAdjust="spacingAndGlyphs" stroke="#000" stroke-width="0.15">USDCAD-,Daily</text>
<text x="94.3" y="31.6" font-size="9.75" fill="#000" textLength="140" lengthAdjust="spacingAndGlyphs" stroke="#000" stroke-width="0.15">1.32489 1.32506 1.32348 1.32361</text>
<text x="8.5" y="575" font-size="9.75" fill="#000" textLength="147" lengthAdjust="spacingAndGlyphs" stroke="#000" stroke-width="0.15">MACD(12,26,9) 0.001869 0.000432</text>
<text x="8.2" y="681" font-size="9.75" fill="#000" textLength="67.6" lengthAdjust="spacingAndGlyphs" stroke="#000" stroke-width="0.15">RSI(14) 59.8682</text>
<text x="6.8" y="8.0" font-size="9.7" fill="#3c3c3c" textLength="12.3" lengthAdjust="spacingAndGlyphs">H4</text>
<text x="35.8" y="8.0" font-size="9.7" fill="#3c3c3c" textLength="11.2" lengthAdjust="spacingAndGlyphs">D1</text>
<text x="63.5" y="8.0" font-size="9.7" fill="#3c3c3c" textLength="13.5" lengthAdjust="spacingAndGlyphs">W1</text>
<text x="89.7" y="8.0" font-size="9.7" fill="#3c3c3c" textLength="14.3" lengthAdjust="spacingAndGlyphs">MN</text>
<text x="16.4" y="835.6" font-size="12.2" fill="#6a6a6a" textLength="84.2" lengthAdjust="spacingAndGlyphs">EURUSD-,Daily</text>
<text x="123" y="835.6" font-size="12.2" fill="#6a6a6a" textLength="87" lengthAdjust="spacingAndGlyphs">AUDUSD-,Daily</text>
<text x="233" y="835.6" font-size="12.2" fill="#6a6a6a" textLength="84" lengthAdjust="spacingAndGlyphs">USDCHF-,Daily</text>
<text x="340.5" y="835.6" font-size="12.2" fill="#000" textLength="85.3" lengthAdjust="spacingAndGlyphs">USDCAD-,Daily</text>
<text x="449" y="835.6" font-size="12.2" fill="#6a6a6a" textLength="87.5" lengthAdjust="spacingAndGlyphs">USDCNH-,Daily</text>
<text x="560.3" y="835.6" font-size="12.2" fill="#6a6a6a" textLength="96.5" lengthAdjust="spacingAndGlyphs">EURCHF-,Weekly</text>
<text x="681.3" y="835.6" font-size="12.2" fill="#6a6a6a" textLength="99.0" lengthAdjust="spacingAndGlyphs">XAUUSD-,Weekly</text>
<text x="804" y="835.6" font-size="12.2" fill="#6a6a6a" textLength="72.5" lengthAdjust="spacingAndGlyphs">GBPUSD-,H1</text>
<text x="900" y="835.6" font-size="12.2" fill="#6a6a6a" textLength="56.7" lengthAdjust="spacingAndGlyphs">UKOil-,H1</text>
<text x="979.3" y="835.6" font-size="12.2" fill="#6a6a6a" textLength="82.2" lengthAdjust="spacingAndGlyphs">USDX-,Weekly</text>
<text x="1083.4" y="835.6" font-size="12.2" fill="#6a6a6a" textLength="70.3" lengthAdjust="spacingAndGlyphs">EURCHF-,H1</text>
<text x="1177.7" y="835.6" font-size="12.2" fill="#6a6a6a" textLength="67.0" lengthAdjust="spacingAndGlyphs">USOil-,Daily</text>
<rect x="113" y="825" width="1" height="13" fill="#6a6a6a"/>
<rect x="221" y="825" width="1" height="13" fill="#6a6a6a"/>
<rect x="549" y="825" width="1" height="13" fill="#6a6a6a"/>
<rect x="669" y="825" width="1" height="13" fill="#6a6a6a"/>
<rect x="793" y="825" width="1" height="13" fill="#6a6a6a"/>
<rect x="889" y="825" width="1" height="13" fill="#6a6a6a"/>
<rect x="969" y="825" width="1" height="13" fill="#6a6a6a"/>
<rect x="1073" y="825" width="1" height="13" fill="#6a6a6a"/>
<rect x="1165" y="825" width="1" height="13" fill="#6a6a6a"/>
<rect x="1257" y="825" width="1" height="13" fill="#6a6a6a"/>
<polygon points="1438.5,826.2 1438.5,833.8 1434.6,830" fill="#8a8a8a"/>
<polygon points="1453.2,826.2 1453.2,833.8 1457.2,830" fill="#8a8a8a"/>
<defs>
<linearGradient id="gb" x1="0" y1="0" x2="0" y2="1"><stop offset="0" stop-color="#5555f8"/><stop offset="1" stop-color="#3a3ae6"/></linearGradient>
<linearGradient id="gp" x1="0" y1="0" x2="0" y2="1"><stop offset="0" stop-color="#3030e2"/><stop offset="1" stop-color="#0000a6"/></linearGradient>
<linearGradient id="gs" x1="0" y1="0" x2="0" y2="1"><stop offset="0" stop-color="#f2f2f2"/><stop offset="0.5" stop-color="#e4e4e4"/><stop offset="0.5" stop-color="#d2d2d2"/><stop offset="1" stop-color="#c4c4c4"/></linearGradient>
</defs>
<rect x="7" y="40" width="52" height="25" fill="url(#gb)"/>
<rect x="175" y="40" width="51" height="25" fill="url(#gb)"/>
<rect x="7" y="64" width="109" height="40" fill="url(#gp)"/>
<rect x="118" y="64" width="108" height="40" fill="url(#gp)"/>
<rect x="7" y="40" width="52" height="1" fill="#1414b4"/>
<rect x="7" y="40" width="1" height="64" fill="#1414b4"/>
<rect x="58" y="40" width="1" height="24" fill="#1414b4"/>
<rect x="175" y="40" width="51" height="1" fill="#1414b4"/>
<rect x="175" y="40" width="1" height="24" fill="#1414b4"/>
<rect x="225" y="40" width="1" height="64" fill="#1414b4"/>
<rect x="7" y="103" width="109" height="1" fill="#1414b4"/>
<rect x="118" y="103" width="108" height="1" fill="#1414b4"/>
<rect x="115" y="64" width="1" height="40" fill="#1414b4"/>
<rect x="118" y="64" width="1" height="40" fill="#1414b4"/>
<rect x="58" y="64" width="58" height="1" fill="#1414b4"/>
<rect x="118" y="64" width="58" height="1" fill="#1414b4"/>
<rect x="11" y="63" width="44" height="1" fill="#2020b8"/>
<rect x="11" y="64" width="44" height="1" fill="#7a7af6"/>
<rect x="178" y="63" width="44" height="1" fill="#2020b8"/>
<rect x="178" y="64" width="44" height="1" fill="#7a7af6"/>
<rect x="61" y="40" width="111" height="22" fill="#a8a8a8"/>
<rect x="62" y="41" width="109" height="20" fill="#fff"/>
<rect x="62" y="41" width="20" height="20" fill="url(#gs)"/>
<rect x="150" y="41" width="21" height="20" fill="url(#gs)"/>
<rect x="82" y="41" width="1" height="20" fill="#a8a8a8"/>
<rect x="149" y="41" width="1" height="20" fill="#a8a8a8"/>
<polygon points="68.5,49 74.5,49 71.5,52.5" fill="#4a5fc0"/>
<polygon points="157,52.5 163,52.5 160,49" fill="#4a5fc0"/>
<text x="146.5" y="55.3" font-size="12.2" fill="#000" text-anchor="end">1.00</text>
<text x="19.7" y="56" font-size="12.2" fill="#fff" textLength="24.9" lengthAdjust="spacingAndGlyphs">SELL</text>
<text x="187.8" y="56" font-size="12.2" fill="#fff" textLength="22.2" lengthAdjust="spacingAndGlyphs">BUY</text>
<text x="27.6" y="94.6" font-size="12" fill="#fff" textLength="22.9" lengthAdjust="spacingAndGlyphs" font-weight="bold">1.32</text>
<text x="137.8" y="94.6" font-size="12" fill="#fff" textLength="22.6" lengthAdjust="spacingAndGlyphs" font-weight="bold">1.32</text>
<text x="55.0" y="94.9" font-size="33.6" fill="#fff" textLength="35.2" lengthAdjust="spacingAndGlyphs">36</text>
<text x="165.7" y="94.9" font-size="33.6" fill="#fff" textLength="35.6" lengthAdjust="spacingAndGlyphs">38</text>
<text x="94.8" y="78.6" font-size="12.5" fill="#fff" textLength="5.6" lengthAdjust="spacingAndGlyphs" font-weight="bold">1</text>
<text x="205.6" y="78.6" font-size="12.5" fill="#fff" textLength="6" lengthAdjust="spacingAndGlyphs" font-weight="bold">5</text>
</svg>
</body></html>
